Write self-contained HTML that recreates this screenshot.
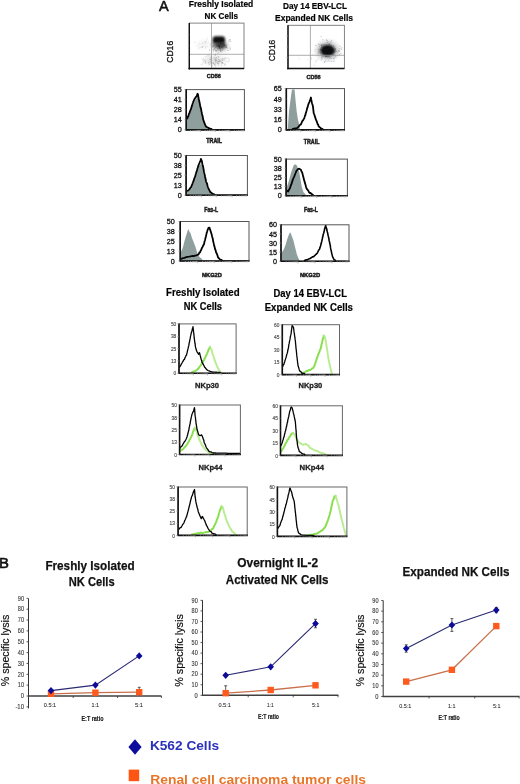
<!DOCTYPE html><html><head><meta charset="utf-8"><style>html,body{margin:0;padding:0;background:#fff;}svg{display:block;}text{font-family:"Liberation Sans",sans-serif;}</style></head><body>
<svg width="520" height="784" viewBox="0 0 520 784">
<rect width="520" height="784" fill="#fff"/>
<g opacity="0.999">
<text x="159.10" y="11.30" font-size="15.0" fill="#111" stroke="#111" stroke-width="0.55" textLength="9.70" lengthAdjust="spacingAndGlyphs">A</text>
<text x="188.80" y="7.00" font-size="8.8" fill="#000" stroke="#000" stroke-width="0.2" font-weight="bold" textLength="64.50" lengthAdjust="spacingAndGlyphs">Freshly Isolated</text>
<text x="204.60" y="18.80" font-size="8.8" fill="#000" stroke="#000" stroke-width="0.2" font-weight="bold" textLength="33.30" lengthAdjust="spacingAndGlyphs">NK Cells</text>
<text x="283.00" y="9.20" font-size="8.8" fill="#000" stroke="#000" stroke-width="0.2" font-weight="bold" textLength="64.00" lengthAdjust="spacingAndGlyphs">Day 14 EBV-LCL</text>
<text x="275.00" y="21.30" font-size="8.8" fill="#000" stroke="#000" stroke-width="0.2" font-weight="bold" textLength="78.00" lengthAdjust="spacingAndGlyphs">Expanded NK Cells</text>
<defs><filter id="b1" x="-50%" y="-50%" width="200%" height="200%"><feGaussianBlur stdDeviation="0.9"/></filter><filter id="b2" x="-50%" y="-50%" width="200%" height="200%"><feGaussianBlur stdDeviation="2.2"/></filter><filter id="b3" x="-50%" y="-50%" width="200%" height="200%"><feGaussianBlur stdDeviation="0.45"/></filter></defs>
<clipPath id="s189"><rect x="189.3" y="23.1" width="54.69999999999999" height="45.49999999999999"/></clipPath>
<g clip-path="url(#s189)">
<ellipse cx="220" cy="46" rx="8" ry="5" fill="#666" opacity="0.5" filter="url(#b2)"/>
<ellipse cx="203" cy="44.5" rx="7" ry="4" fill="#bbb" opacity="0.15" filter="url(#b2)"/>
<ellipse cx="215" cy="60.5" rx="11" ry="4" fill="#bbb" opacity="0.45" filter="url(#b2)"/>
<rect x="212.6" y="36.2" width="12.4" height="7.4" rx="3.2" fill="#0a0a0a" filter="url(#b1)"/>
<ellipse cx="221" cy="45.2" rx="4.6" ry="3.2" fill="#1a1a1a" opacity="0.75" filter="url(#b1)"/>
<ellipse cx="215" cy="45" rx="3" ry="2.5" fill="#444" opacity="0.5" filter="url(#b1)"/>
<g filter="url(#b3)">
<rect x="220.5" y="51.0" width="1" height="1" fill="#222" opacity="0.3"/>
<rect x="215.3" y="50.2" width="1" height="1" fill="#222" opacity="0.3"/>
<rect x="218.7" y="46.2" width="1" height="1" fill="#222" opacity="0.3"/>
<rect x="229.5" y="47.5" width="1" height="1" fill="#222" opacity="0.3"/>
<rect x="219.8" y="49.3" width="1" height="1" fill="#222" opacity="0.3"/>
<rect x="225.6" y="46.9" width="1" height="1" fill="#222" opacity="0.3"/>
<rect x="222.9" y="43.9" width="1" height="1" fill="#222" opacity="0.3"/>
<rect x="218.2" y="45.6" width="1" height="1" fill="#222" opacity="0.3"/>
<rect x="213.3" y="42.2" width="1" height="1" fill="#222" opacity="0.3"/>
<rect x="211.9" y="46.2" width="1" height="1" fill="#222" opacity="0.3"/>
<rect x="219.1" y="46.0" width="1" height="1" fill="#222" opacity="0.3"/>
<rect x="220.3" y="42.7" width="1" height="1" fill="#222" opacity="0.3"/>
<rect x="219.6" y="47.8" width="1" height="1" fill="#222" opacity="0.3"/>
<rect x="223.8" y="44.3" width="1" height="1" fill="#222" opacity="0.3"/>
<rect x="218.0" y="40.6" width="1" height="1" fill="#222" opacity="0.3"/>
<rect x="217.5" y="40.0" width="1" height="1" fill="#222" opacity="0.3"/>
<rect x="212.9" y="50.5" width="1" height="1" fill="#222" opacity="0.3"/>
<rect x="209.0" y="49.6" width="1" height="1" fill="#222" opacity="0.3"/>
<rect x="221.6" y="46.0" width="1" height="1" fill="#222" opacity="0.3"/>
<rect x="222.3" y="48.7" width="1" height="1" fill="#222" opacity="0.3"/>
<rect x="225.2" y="46.3" width="1" height="1" fill="#222" opacity="0.3"/>
<rect x="217.0" y="45.1" width="1" height="1" fill="#222" opacity="0.3"/>
<rect x="215.1" y="46.9" width="1" height="1" fill="#222" opacity="0.3"/>
<rect x="216.1" y="50.4" width="1" height="1" fill="#222" opacity="0.3"/>
<rect x="210.7" y="43.5" width="1" height="1" fill="#222" opacity="0.3"/>
<rect x="215.2" y="40.3" width="1" height="1" fill="#222" opacity="0.3"/>
<rect x="229.5" y="39.3" width="1" height="1" fill="#222" opacity="0.3"/>
<rect x="218.6" y="45.3" width="1" height="1" fill="#222" opacity="0.3"/>
<rect x="228.3" y="40.6" width="1" height="1" fill="#222" opacity="0.3"/>
<rect x="225.4" y="44.7" width="1" height="1" fill="#222" opacity="0.3"/>
<rect x="219.2" y="44.9" width="1" height="1" fill="#222" opacity="0.3"/>
<rect x="223.2" y="43.4" width="1" height="1" fill="#222" opacity="0.3"/>
<rect x="219.6" y="48.1" width="1" height="1" fill="#222" opacity="0.3"/>
<rect x="229.2" y="39.3" width="1" height="1" fill="#222" opacity="0.3"/>
<rect x="227.6" y="50.0" width="1" height="1" fill="#222" opacity="0.3"/>
<rect x="217.6" y="48.0" width="1" height="1" fill="#222" opacity="0.3"/>
<rect x="217.7" y="52.3" width="1" height="1" fill="#222" opacity="0.3"/>
<rect x="221.0" y="46.3" width="1" height="1" fill="#222" opacity="0.3"/>
<rect x="218.9" y="46.4" width="1" height="1" fill="#222" opacity="0.3"/>
<rect x="219.1" y="44.2" width="1" height="1" fill="#222" opacity="0.3"/>
<rect x="230.3" y="40.9" width="1" height="1" fill="#222" opacity="0.3"/>
<rect x="202.0" y="46.6" width="1" height="1" fill="#222" opacity="0.3"/>
<rect x="219.3" y="48.2" width="1" height="1" fill="#222" opacity="0.3"/>
<rect x="219.0" y="46.5" width="1" height="1" fill="#222" opacity="0.3"/>
<rect x="221.7" y="50.1" width="1" height="1" fill="#222" opacity="0.3"/>
<rect x="217.8" y="45.8" width="1" height="1" fill="#222" opacity="0.3"/>
<rect x="229.7" y="48.7" width="1" height="1" fill="#222" opacity="0.3"/>
<rect x="215.1" y="54.4" width="1" height="1" fill="#222" opacity="0.3"/>
<rect x="223.9" y="45.1" width="1" height="1" fill="#222" opacity="0.3"/>
<rect x="214.1" y="48.0" width="1" height="1" fill="#222" opacity="0.3"/>
<rect x="215.8" y="43.6" width="1" height="1" fill="#222" opacity="0.3"/>
<rect x="213.5" y="45.4" width="1" height="1" fill="#222" opacity="0.3"/>
<rect x="225.5" y="45.6" width="1" height="1" fill="#222" opacity="0.3"/>
<rect x="212.8" y="49.1" width="1" height="1" fill="#222" opacity="0.3"/>
<rect x="220.3" y="49.7" width="1" height="1" fill="#222" opacity="0.3"/>
<rect x="226.0" y="46.5" width="1" height="1" fill="#222" opacity="0.3"/>
<rect x="219.3" y="46.9" width="1" height="1" fill="#222" opacity="0.3"/>
<rect x="214.3" y="49.1" width="1" height="1" fill="#222" opacity="0.3"/>
<rect x="226.9" y="47.6" width="1" height="1" fill="#222" opacity="0.3"/>
<rect x="218.8" y="46.2" width="1" height="1" fill="#222" opacity="0.3"/>
<rect x="216.1" y="44.4" width="1" height="1" fill="#222" opacity="0.3"/>
<rect x="218.0" y="44.3" width="1" height="1" fill="#222" opacity="0.3"/>
<rect x="217.8" y="42.0" width="1" height="1" fill="#222" opacity="0.3"/>
<rect x="221.8" y="47.2" width="1" height="1" fill="#222" opacity="0.3"/>
<rect x="214.2" y="39.6" width="1" height="1" fill="#222" opacity="0.3"/>
<rect x="220.0" y="50.5" width="1" height="1" fill="#222" opacity="0.3"/>
<rect x="216.3" y="45.5" width="1" height="1" fill="#222" opacity="0.3"/>
<rect x="217.2" y="49.1" width="1" height="1" fill="#222" opacity="0.3"/>
<rect x="215.4" y="50.2" width="1" height="1" fill="#222" opacity="0.3"/>
<rect x="218.5" y="50.0" width="1" height="1" fill="#222" opacity="0.3"/>
<rect x="203.2" y="43.2" width="1" height="1" fill="#333" opacity="0.1"/>
<rect x="194.1" y="41.6" width="1" height="1" fill="#333" opacity="0.1"/>
<rect x="201.4" y="46.3" width="1" height="1" fill="#333" opacity="0.1"/>
<rect x="204.5" y="41.6" width="1" height="1" fill="#333" opacity="0.1"/>
<rect x="205.5" y="47.5" width="1" height="1" fill="#333" opacity="0.1"/>
<rect x="202.1" y="42.5" width="1" height="1" fill="#333" opacity="0.1"/>
<rect x="200.6" y="46.8" width="1" height="1" fill="#333" opacity="0.1"/>
<rect x="206.2" y="40.7" width="1" height="1" fill="#333" opacity="0.1"/>
<rect x="205.2" y="42.3" width="1" height="1" fill="#333" opacity="0.1"/>
<rect x="198.5" y="48.3" width="1" height="1" fill="#333" opacity="0.1"/>
<rect x="207.9" y="41.5" width="1" height="1" fill="#333" opacity="0.1"/>
<rect x="203.5" y="45.8" width="1" height="1" fill="#333" opacity="0.1"/>
<rect x="199.2" y="43.6" width="1" height="1" fill="#333" opacity="0.1"/>
<rect x="207.0" y="37.7" width="1" height="1" fill="#333" opacity="0.1"/>
<rect x="205.0" y="46.6" width="1" height="1" fill="#333" opacity="0.1"/>
<rect x="206.0" y="39.3" width="1" height="1" fill="#333" opacity="0.1"/>
<rect x="204.9" y="41.0" width="1" height="1" fill="#333" opacity="0.1"/>
<rect x="206.4" y="46.1" width="1" height="1" fill="#333" opacity="0.1"/>
<rect x="204.3" y="41.3" width="1" height="1" fill="#333" opacity="0.1"/>
<rect x="199.5" y="47.0" width="1" height="1" fill="#333" opacity="0.1"/>
<rect x="197.6" y="45.7" width="1" height="1" fill="#333" opacity="0.1"/>
<rect x="206.1" y="43.0" width="1" height="1" fill="#333" opacity="0.1"/>
<rect x="217.4" y="44.2" width="1" height="1" fill="#333" opacity="0.1"/>
<rect x="215.9" y="36.9" width="1" height="1" fill="#333" opacity="0.1"/>
<rect x="189.5" y="47.4" width="1" height="1" fill="#333" opacity="0.1"/>
<rect x="219.5" y="59.6" width="1" height="1" fill="#333" opacity="0.2"/>
<rect x="214.6" y="54.8" width="1" height="1" fill="#333" opacity="0.2"/>
<rect x="210.6" y="57.4" width="1" height="1" fill="#333" opacity="0.2"/>
<rect x="213.4" y="63.2" width="1" height="1" fill="#333" opacity="0.2"/>
<rect x="215.4" y="61.6" width="1" height="1" fill="#333" opacity="0.2"/>
<rect x="210.1" y="59.2" width="1" height="1" fill="#333" opacity="0.2"/>
<rect x="215.8" y="59.7" width="1" height="1" fill="#333" opacity="0.2"/>
<rect x="223.9" y="57.9" width="1" height="1" fill="#333" opacity="0.2"/>
<rect x="228.2" y="57.6" width="1" height="1" fill="#333" opacity="0.2"/>
<rect x="222.4" y="58.2" width="1" height="1" fill="#333" opacity="0.2"/>
<rect x="226.5" y="60.9" width="1" height="1" fill="#333" opacity="0.2"/>
<rect x="217.8" y="62.7" width="1" height="1" fill="#333" opacity="0.2"/>
<rect x="210.6" y="57.4" width="1" height="1" fill="#333" opacity="0.2"/>
<rect x="200.8" y="64.2" width="1" height="1" fill="#333" opacity="0.2"/>
<rect x="210.1" y="58.7" width="1" height="1" fill="#333" opacity="0.2"/>
<rect x="214.8" y="66.5" width="1" height="1" fill="#333" opacity="0.2"/>
<rect x="202.9" y="61.2" width="1" height="1" fill="#333" opacity="0.2"/>
<rect x="212.2" y="62.1" width="1" height="1" fill="#333" opacity="0.2"/>
<rect x="202.4" y="59.3" width="1" height="1" fill="#333" opacity="0.2"/>
<rect x="220.9" y="65.2" width="1" height="1" fill="#333" opacity="0.2"/>
<rect x="226.2" y="57.9" width="1" height="1" fill="#333" opacity="0.2"/>
<rect x="215.4" y="60.2" width="1" height="1" fill="#333" opacity="0.2"/>
<rect x="205.4" y="56.2" width="1" height="1" fill="#333" opacity="0.2"/>
<rect x="220.3" y="61.2" width="1" height="1" fill="#333" opacity="0.2"/>
<rect x="214.0" y="64.1" width="1" height="1" fill="#333" opacity="0.2"/>
<rect x="208.0" y="62.1" width="1" height="1" fill="#333" opacity="0.2"/>
<rect x="215.1" y="60.3" width="1" height="1" fill="#333" opacity="0.2"/>
<rect x="218.4" y="61.0" width="1" height="1" fill="#333" opacity="0.2"/>
<rect x="216.9" y="61.3" width="1" height="1" fill="#333" opacity="0.2"/>
<rect x="228.6" y="59.6" width="1" height="1" fill="#333" opacity="0.2"/>
<rect x="222.1" y="62.3" width="1" height="1" fill="#333" opacity="0.2"/>
<rect x="212.6" y="62.9" width="1" height="1" fill="#333" opacity="0.2"/>
<rect x="209.0" y="64.0" width="1" height="1" fill="#333" opacity="0.2"/>
<rect x="209.3" y="59.0" width="1" height="1" fill="#333" opacity="0.2"/>
<rect x="217.3" y="63.0" width="1" height="1" fill="#333" opacity="0.2"/>
<rect x="221.4" y="63.2" width="1" height="1" fill="#333" opacity="0.2"/>
<rect x="213.6" y="57.6" width="1" height="1" fill="#333" opacity="0.2"/>
<rect x="218.8" y="61.4" width="1" height="1" fill="#333" opacity="0.2"/>
<rect x="208.3" y="63.4" width="1" height="1" fill="#333" opacity="0.2"/>
<rect x="216.4" y="57.6" width="1" height="1" fill="#333" opacity="0.2"/>
<rect x="218.1" y="56.5" width="1" height="1" fill="#333" opacity="0.2"/>
<rect x="208.9" y="61.7" width="1" height="1" fill="#333" opacity="0.2"/>
<rect x="204.1" y="60.6" width="1" height="1" fill="#333" opacity="0.2"/>
<rect x="205.5" y="62.7" width="1" height="1" fill="#333" opacity="0.2"/>
<rect x="209.9" y="61.0" width="1" height="1" fill="#333" opacity="0.2"/>
<rect x="204.5" y="59.5" width="1" height="1" fill="#333" opacity="0.2"/>
<rect x="221.6" y="61.9" width="1" height="1" fill="#333" opacity="0.2"/>
<rect x="202.1" y="63.3" width="1" height="1" fill="#333" opacity="0.2"/>
<rect x="221.2" y="59.4" width="1" height="1" fill="#333" opacity="0.2"/>
<rect x="224.9" y="57.3" width="1" height="1" fill="#333" opacity="0.2"/>
<rect x="214.4" y="63.8" width="1" height="1" fill="#333" opacity="0.2"/>
<rect x="224.2" y="64.3" width="1" height="1" fill="#333" opacity="0.2"/>
<rect x="207.3" y="55.2" width="1" height="1" fill="#333" opacity="0.2"/>
<rect x="217.7" y="56.2" width="1" height="1" fill="#333" opacity="0.2"/>
<rect x="214.1" y="56.7" width="1" height="1" fill="#333" opacity="0.2"/>
<rect x="222.4" y="62.9" width="1" height="1" fill="#333" opacity="0.2"/>
<rect x="218.9" y="60.6" width="1" height="1" fill="#333" opacity="0.2"/>
<rect x="215.3" y="59.6" width="1" height="1" fill="#333" opacity="0.2"/>
<rect x="217.7" y="61.2" width="1" height="1" fill="#333" opacity="0.2"/>
<rect x="218.2" y="59.2" width="1" height="1" fill="#333" opacity="0.2"/>
<rect x="228.3" y="61.3" width="1" height="1" fill="#333" opacity="0.2"/>
<rect x="224.8" y="64.5" width="1" height="1" fill="#333" opacity="0.2"/>
<rect x="208.8" y="55.4" width="1" height="1" fill="#333" opacity="0.2"/>
<rect x="223.8" y="59.3" width="1" height="1" fill="#333" opacity="0.2"/>
<rect x="215.6" y="59.7" width="1" height="1" fill="#333" opacity="0.2"/>
<rect x="215.9" y="56.9" width="1" height="1" fill="#333" opacity="0.2"/>
<rect x="214.3" y="59.1" width="1" height="1" fill="#333" opacity="0.2"/>
<rect x="214.9" y="53.5" width="1" height="1" fill="#333" opacity="0.2"/>
<rect x="220.7" y="61.5" width="1" height="1" fill="#333" opacity="0.2"/>
<rect x="202.9" y="58.3" width="1" height="1" fill="#333" opacity="0.2"/>
<rect x="215.2" y="62.4" width="1" height="1" fill="#333" opacity="0.2"/>
<rect x="215.0" y="64.7" width="1" height="1" fill="#333" opacity="0.2"/>
<rect x="215.2" y="57.5" width="1" height="1" fill="#333" opacity="0.2"/>
<rect x="210.3" y="62.7" width="1" height="1" fill="#333" opacity="0.2"/>
<rect x="210.7" y="63.0" width="1" height="1" fill="#333" opacity="0.2"/>
<rect x="222.1" y="62.3" width="1" height="1" fill="#333" opacity="0.2"/>
<rect x="222.1" y="60.0" width="1" height="1" fill="#333" opacity="0.2"/>
<rect x="214.9" y="58.7" width="1" height="1" fill="#333" opacity="0.2"/>
<rect x="210.7" y="55.8" width="1" height="1" fill="#333" opacity="0.2"/>
<rect x="211.1" y="57.3" width="1" height="1" fill="#333" opacity="0.2"/>
<rect x="205.0" y="60.9" width="1" height="1" fill="#333" opacity="0.2"/>
<rect x="218.2" y="59.5" width="1" height="1" fill="#333" opacity="0.2"/>
<rect x="224.6" y="63.3" width="1" height="1" fill="#333" opacity="0.2"/>
<rect x="222.3" y="58.7" width="1" height="1" fill="#333" opacity="0.2"/>
<rect x="204.6" y="62.2" width="1" height="1" fill="#333" opacity="0.2"/>
<rect x="217.2" y="62.7" width="1" height="1" fill="#333" opacity="0.2"/>
<rect x="217.9" y="64.3" width="1" height="1" fill="#333" opacity="0.2"/>
<rect x="213.0" y="62.5" width="1" height="1" fill="#333" opacity="0.2"/>
<rect x="208.7" y="53.6" width="1" height="1" fill="#333" opacity="0.2"/>
<rect x="211.9" y="65.0" width="1" height="1" fill="#333" opacity="0.2"/>
</g>
</g>
<line x1="211.5" y1="23.1" x2="211.5" y2="68.6" stroke="#999" stroke-width="0.8"/>
<line x1="189.3" y1="54.3" x2="244.0" y2="54.3" stroke="#999" stroke-width="0.8"/>
<rect x="189.3" y="23.1" width="54.69999999999999" height="45.49999999999999" fill="none" stroke="#777" stroke-width="0.9"/>
<line x1="189.3" y1="23.1" x2="189.3" y2="69.39999999999999" stroke="#111" stroke-width="1.4"/>
<line x1="188.5" y1="68.6" x2="244.0" y2="68.6" stroke="#111" stroke-width="1.5"/>
<line x1="187.5" y1="34.5" x2="189.3" y2="34.5" stroke="#aaa" stroke-width="0.6"/>
<line x1="187.5" y1="45.8" x2="189.3" y2="45.8" stroke="#aaa" stroke-width="0.6"/>
<line x1="187.5" y1="57.2" x2="189.3" y2="57.2" stroke="#aaa" stroke-width="0.6"/>
<clipPath id="s288"><rect x="288.0" y="25.3" width="56.39999999999998" height="43.10000000000001"/></clipPath>
<g clip-path="url(#s288)">
<ellipse cx="327.5" cy="50.5" rx="11" ry="9" fill="#6a7070" opacity="0.45" filter="url(#b2)"/>
<ellipse cx="327.6" cy="50.5" rx="7.2" ry="5.8" fill="#0c100f" filter="url(#b1)"/>
<g filter="url(#b3)">
<rect x="321.0" y="45.2" width="1" height="1" fill="#223" opacity="0.28"/>
<rect x="331.2" y="39.9" width="1" height="1" fill="#223" opacity="0.28"/>
<rect x="326.7" y="40.1" width="1" height="1" fill="#223" opacity="0.28"/>
<rect x="333.6" y="51.4" width="1" height="1" fill="#223" opacity="0.28"/>
<rect x="335.0" y="48.2" width="1" height="1" fill="#223" opacity="0.28"/>
<rect x="329.7" y="49.2" width="1" height="1" fill="#223" opacity="0.28"/>
<rect x="323.4" y="51.2" width="1" height="1" fill="#223" opacity="0.28"/>
<rect x="320.6" y="48.9" width="1" height="1" fill="#223" opacity="0.28"/>
<rect x="331.3" y="50.8" width="1" height="1" fill="#223" opacity="0.28"/>
<rect x="325.2" y="60.6" width="1" height="1" fill="#223" opacity="0.28"/>
<rect x="327.8" y="47.8" width="1" height="1" fill="#223" opacity="0.28"/>
<rect x="328.4" y="48.1" width="1" height="1" fill="#223" opacity="0.28"/>
<rect x="325.4" y="48.9" width="1" height="1" fill="#223" opacity="0.28"/>
<rect x="338.6" y="50.6" width="1" height="1" fill="#223" opacity="0.28"/>
<rect x="328.5" y="53.6" width="1" height="1" fill="#223" opacity="0.28"/>
<rect x="338.6" y="49.5" width="1" height="1" fill="#223" opacity="0.28"/>
<rect x="324.1" y="61.9" width="1" height="1" fill="#223" opacity="0.28"/>
<rect x="319.5" y="48.8" width="1" height="1" fill="#223" opacity="0.28"/>
<rect x="331.2" y="61.0" width="1" height="1" fill="#223" opacity="0.28"/>
<rect x="322.3" y="39.3" width="1" height="1" fill="#223" opacity="0.28"/>
<rect x="331.1" y="48.1" width="1" height="1" fill="#223" opacity="0.28"/>
<rect x="325.4" y="52.6" width="1" height="1" fill="#223" opacity="0.28"/>
<rect x="328.7" y="51.8" width="1" height="1" fill="#223" opacity="0.28"/>
<rect x="325.1" y="56.4" width="1" height="1" fill="#223" opacity="0.28"/>
<rect x="335.8" y="50.6" width="1" height="1" fill="#223" opacity="0.28"/>
<rect x="325.0" y="53.9" width="1" height="1" fill="#223" opacity="0.28"/>
<rect x="330.1" y="45.7" width="1" height="1" fill="#223" opacity="0.28"/>
<rect x="325.0" y="55.3" width="1" height="1" fill="#223" opacity="0.28"/>
<rect x="327.0" y="49.0" width="1" height="1" fill="#223" opacity="0.28"/>
<rect x="328.7" y="50.3" width="1" height="1" fill="#223" opacity="0.28"/>
<rect x="327.5" y="41.6" width="1" height="1" fill="#223" opacity="0.28"/>
<rect x="337.1" y="51.4" width="1" height="1" fill="#223" opacity="0.28"/>
<rect x="322.7" y="55.0" width="1" height="1" fill="#223" opacity="0.28"/>
<rect x="329.2" y="50.6" width="1" height="1" fill="#223" opacity="0.28"/>
<rect x="333.3" y="60.9" width="1" height="1" fill="#223" opacity="0.28"/>
<rect x="330.5" y="57.8" width="1" height="1" fill="#223" opacity="0.28"/>
<rect x="339.4" y="45.8" width="1" height="1" fill="#223" opacity="0.28"/>
<rect x="324.6" y="54.1" width="1" height="1" fill="#223" opacity="0.28"/>
<rect x="318.1" y="49.3" width="1" height="1" fill="#223" opacity="0.28"/>
<rect x="334.6" y="55.3" width="1" height="1" fill="#223" opacity="0.28"/>
<rect x="330.7" y="41.8" width="1" height="1" fill="#223" opacity="0.28"/>
<rect x="340.4" y="53.0" width="1" height="1" fill="#223" opacity="0.28"/>
<rect x="331.7" y="52.8" width="1" height="1" fill="#223" opacity="0.28"/>
<rect x="318.1" y="43.9" width="1" height="1" fill="#223" opacity="0.28"/>
<rect x="320.8" y="59.3" width="1" height="1" fill="#223" opacity="0.28"/>
<rect x="322.9" y="49.4" width="1" height="1" fill="#223" opacity="0.28"/>
<rect x="326.1" y="53.1" width="1" height="1" fill="#223" opacity="0.28"/>
<rect x="330.3" y="51.7" width="1" height="1" fill="#223" opacity="0.28"/>
<rect x="320.6" y="36.1" width="1" height="1" fill="#223" opacity="0.28"/>
<rect x="328.4" y="51.7" width="1" height="1" fill="#223" opacity="0.28"/>
<rect x="334.3" y="50.0" width="1" height="1" fill="#223" opacity="0.28"/>
<rect x="324.1" y="52.4" width="1" height="1" fill="#223" opacity="0.28"/>
<rect x="319.0" y="45.7" width="1" height="1" fill="#223" opacity="0.28"/>
<rect x="322.0" y="51.8" width="1" height="1" fill="#223" opacity="0.28"/>
<rect x="339.0" y="54.0" width="1" height="1" fill="#223" opacity="0.28"/>
<rect x="333.8" y="51.6" width="1" height="1" fill="#223" opacity="0.28"/>
<rect x="329.0" y="48.4" width="1" height="1" fill="#223" opacity="0.28"/>
<rect x="326.0" y="39.3" width="1" height="1" fill="#223" opacity="0.28"/>
<rect x="320.9" y="44.6" width="1" height="1" fill="#223" opacity="0.28"/>
<rect x="332.1" y="53.6" width="1" height="1" fill="#223" opacity="0.28"/>
<rect x="333.8" y="57.7" width="1" height="1" fill="#223" opacity="0.28"/>
<rect x="325.8" y="55.4" width="1" height="1" fill="#223" opacity="0.28"/>
<rect x="338.3" y="50.5" width="1" height="1" fill="#223" opacity="0.28"/>
<rect x="333.5" y="49.7" width="1" height="1" fill="#223" opacity="0.28"/>
<rect x="318.6" y="51.1" width="1" height="1" fill="#223" opacity="0.28"/>
<rect x="323.0" y="51.0" width="1" height="1" fill="#223" opacity="0.28"/>
<rect x="325.0" y="52.0" width="1" height="1" fill="#223" opacity="0.28"/>
<rect x="315.7" y="60.1" width="1" height="1" fill="#223" opacity="0.28"/>
<rect x="335.0" y="48.9" width="1" height="1" fill="#223" opacity="0.28"/>
<rect x="322.5" y="50.5" width="1" height="1" fill="#223" opacity="0.28"/>
<rect x="331.2" y="52.4" width="1" height="1" fill="#223" opacity="0.28"/>
<rect x="329.7" y="41.4" width="1" height="1" fill="#223" opacity="0.28"/>
<rect x="321.3" y="56.7" width="1" height="1" fill="#223" opacity="0.28"/>
<rect x="328.8" y="43.5" width="1" height="1" fill="#223" opacity="0.28"/>
<rect x="322.7" y="43.8" width="1" height="1" fill="#223" opacity="0.28"/>
<rect x="321.9" y="55.9" width="1" height="1" fill="#223" opacity="0.28"/>
<rect x="326.3" y="55.7" width="1" height="1" fill="#223" opacity="0.28"/>
<rect x="328.5" y="43.5" width="1" height="1" fill="#223" opacity="0.28"/>
<rect x="323.9" y="61.2" width="1" height="1" fill="#223" opacity="0.28"/>
<rect x="323.2" y="45.6" width="1" height="1" fill="#223" opacity="0.28"/>
<rect x="334.4" y="50.9" width="1" height="1" fill="#223" opacity="0.28"/>
<rect x="327.5" y="57.4" width="1" height="1" fill="#223" opacity="0.28"/>
<rect x="317.6" y="52.5" width="1" height="1" fill="#223" opacity="0.28"/>
<rect x="321.6" y="43.9" width="1" height="1" fill="#223" opacity="0.28"/>
<rect x="322.9" y="55.9" width="1" height="1" fill="#223" opacity="0.28"/>
<rect x="326.7" y="41.9" width="1" height="1" fill="#223" opacity="0.28"/>
<rect x="321.3" y="57.7" width="1" height="1" fill="#223" opacity="0.28"/>
<rect x="333.2" y="45.4" width="1" height="1" fill="#223" opacity="0.28"/>
<rect x="341.1" y="48.8" width="1" height="1" fill="#223" opacity="0.28"/>
<rect x="320.8" y="49.9" width="1" height="1" fill="#223" opacity="0.28"/>
<rect x="332.8" y="58.1" width="1" height="1" fill="#223" opacity="0.28"/>
<rect x="333.3" y="48.5" width="1" height="1" fill="#223" opacity="0.28"/>
<rect x="324.3" y="43.7" width="1" height="1" fill="#223" opacity="0.28"/>
<rect x="327.1" y="47.7" width="1" height="1" fill="#223" opacity="0.28"/>
<rect x="328.9" y="44.5" width="1" height="1" fill="#223" opacity="0.28"/>
<rect x="324.6" y="46.4" width="1" height="1" fill="#223" opacity="0.28"/>
<rect x="320.7" y="44.9" width="1" height="1" fill="#223" opacity="0.28"/>
<rect x="321.8" y="44.9" width="1" height="1" fill="#223" opacity="0.28"/>
<rect x="330.7" y="51.0" width="1" height="1" fill="#223" opacity="0.28"/>
<rect x="320.1" y="52.9" width="1" height="1" fill="#223" opacity="0.28"/>
<rect x="329.1" y="57.4" width="1" height="1" fill="#223" opacity="0.28"/>
<rect x="326.4" y="49.5" width="1" height="1" fill="#223" opacity="0.28"/>
<rect x="323.6" y="51.1" width="1" height="1" fill="#223" opacity="0.28"/>
<rect x="330.3" y="51.3" width="1" height="1" fill="#223" opacity="0.28"/>
<rect x="326.1" y="53.2" width="1" height="1" fill="#223" opacity="0.28"/>
<rect x="328.0" y="51.7" width="1" height="1" fill="#223" opacity="0.28"/>
<rect x="322.2" y="51.5" width="1" height="1" fill="#223" opacity="0.28"/>
<rect x="321.9" y="46.5" width="1" height="1" fill="#223" opacity="0.28"/>
<rect x="328.4" y="60.4" width="1" height="1" fill="#223" opacity="0.28"/>
<rect x="333.1" y="50.5" width="1" height="1" fill="#223" opacity="0.28"/>
<rect x="326.5" y="55.2" width="1" height="1" fill="#223" opacity="0.28"/>
<rect x="335.3" y="56.2" width="1" height="1" fill="#223" opacity="0.28"/>
<rect x="326.5" y="51.4" width="1" height="1" fill="#223" opacity="0.28"/>
<rect x="325.6" y="49.2" width="1" height="1" fill="#223" opacity="0.28"/>
<rect x="322.7" y="49.3" width="1" height="1" fill="#223" opacity="0.28"/>
<rect x="315.4" y="44.9" width="1" height="1" fill="#223" opacity="0.28"/>
<rect x="329.9" y="46.1" width="1" height="1" fill="#223" opacity="0.28"/>
<rect x="330.5" y="44.4" width="1" height="1" fill="#223" opacity="0.28"/>
<rect x="325.4" y="52.4" width="1" height="1" fill="#223" opacity="0.28"/>
<rect x="321.7" y="47.1" width="1" height="1" fill="#223" opacity="0.28"/>
<rect x="341.4" y="47.3" width="1" height="1" fill="#223" opacity="0.28"/>
<rect x="323.5" y="47.8" width="1" height="1" fill="#223" opacity="0.28"/>
<rect x="327.7" y="50.4" width="1" height="1" fill="#223" opacity="0.28"/>
<rect x="333.0" y="54.2" width="1" height="1" fill="#223" opacity="0.28"/>
<rect x="325.2" y="48.8" width="1" height="1" fill="#223" opacity="0.28"/>
<rect x="319.5" y="43.5" width="1" height="1" fill="#223" opacity="0.28"/>
<rect x="323.3" y="53.9" width="1" height="1" fill="#223" opacity="0.28"/>
<rect x="328.2" y="54.3" width="1" height="1" fill="#223" opacity="0.28"/>
<rect x="332.8" y="49.7" width="1" height="1" fill="#223" opacity="0.28"/>
<rect x="339.3" y="48.0" width="1" height="1" fill="#223" opacity="0.28"/>
<rect x="312.2" y="53.8" width="1" height="1" fill="#333" opacity="0.12"/>
<rect x="328.5" y="55.3" width="1" height="1" fill="#333" opacity="0.12"/>
<rect x="311.2" y="58.2" width="1" height="1" fill="#333" opacity="0.12"/>
<rect x="328.4" y="55.4" width="1" height="1" fill="#333" opacity="0.12"/>
<rect x="315.7" y="61.5" width="1" height="1" fill="#333" opacity="0.12"/>
<rect x="327.0" y="60.8" width="1" height="1" fill="#333" opacity="0.12"/>
<rect x="311.0" y="57.4" width="1" height="1" fill="#333" opacity="0.12"/>
<rect x="321.3" y="46.8" width="1" height="1" fill="#333" opacity="0.12"/>
<rect x="329.1" y="56.5" width="1" height="1" fill="#333" opacity="0.12"/>
<rect x="314.9" y="67.6" width="1" height="1" fill="#333" opacity="0.12"/>
<rect x="319.3" y="52.3" width="1" height="1" fill="#333" opacity="0.12"/>
<rect x="317.4" y="58.9" width="1" height="1" fill="#333" opacity="0.12"/>
<rect x="325.5" y="55.7" width="1" height="1" fill="#333" opacity="0.12"/>
<rect x="310.1" y="52.4" width="1" height="1" fill="#333" opacity="0.12"/>
<rect x="310.5" y="50.6" width="1" height="1" fill="#333" opacity="0.12"/>
<rect x="317.8" y="53.5" width="1" height="1" fill="#333" opacity="0.12"/>
<rect x="318.5" y="51.8" width="1" height="1" fill="#333" opacity="0.12"/>
<rect x="310.0" y="55.1" width="1" height="1" fill="#333" opacity="0.12"/>
<rect x="314.8" y="61.9" width="1" height="1" fill="#333" opacity="0.12"/>
<rect x="309.7" y="57.1" width="1" height="1" fill="#333" opacity="0.12"/>
<rect x="317.6" y="49.3" width="1" height="1" fill="#333" opacity="0.12"/>
<rect x="324.7" y="56.9" width="1" height="1" fill="#333" opacity="0.12"/>
<rect x="298.7" y="59.1" width="1" height="1" fill="#333" opacity="0.12"/>
<rect x="326.6" y="51.9" width="1" height="1" fill="#333" opacity="0.12"/>
<rect x="333.6" y="56.8" width="1" height="1" fill="#333" opacity="0.12"/>
<rect x="307.4" y="58.9" width="1" height="1" fill="#333" opacity="0.12"/>
<rect x="314.7" y="49.2" width="1" height="1" fill="#333" opacity="0.12"/>
<rect x="298.3" y="57.3" width="1" height="1" fill="#333" opacity="0.12"/>
<rect x="311.2" y="59.3" width="1" height="1" fill="#333" opacity="0.12"/>
<rect x="321.6" y="53.3" width="1" height="1" fill="#333" opacity="0.12"/>
<rect x="313.1" y="65.0" width="1" height="1" fill="#333" opacity="0.12"/>
<rect x="333.7" y="59.8" width="1" height="1" fill="#333" opacity="0.12"/>
<rect x="314.7" y="51.0" width="1" height="1" fill="#333" opacity="0.12"/>
<rect x="314.4" y="64.5" width="1" height="1" fill="#333" opacity="0.12"/>
<rect x="322.2" y="54.5" width="1" height="1" fill="#333" opacity="0.12"/>
</g>
</g>
<line x1="310.4" y1="25.3" x2="310.4" y2="68.4" stroke="#999" stroke-width="0.8"/>
<line x1="288.0" y1="55.3" x2="344.4" y2="55.3" stroke="#999" stroke-width="0.8"/>
<rect x="288.0" y="25.3" width="56.39999999999998" height="43.10000000000001" fill="none" stroke="#777" stroke-width="0.9"/>
<line x1="288.0" y1="25.3" x2="288.0" y2="69.2" stroke="#111" stroke-width="1.4"/>
<line x1="287.2" y1="68.4" x2="344.4" y2="68.4" stroke="#111" stroke-width="1.5"/>
<line x1="286.2" y1="36.1" x2="288.0" y2="36.1" stroke="#aaa" stroke-width="0.6"/>
<line x1="286.2" y1="46.9" x2="288.0" y2="46.9" stroke="#aaa" stroke-width="0.6"/>
<line x1="286.2" y1="57.6" x2="288.0" y2="57.6" stroke="#aaa" stroke-width="0.6"/>
<text x="173.20" y="51.80" font-size="9.4" fill="#111" stroke="#111" stroke-width="0.3" text-anchor="middle" textLength="22.00" lengthAdjust="spacingAndGlyphs" transform="rotate(-90 173.20 51.80)">CD16</text>
<text x="274.90" y="50.50" font-size="9.4" fill="#111" stroke="#111" stroke-width="0.3" text-anchor="middle" textLength="21.50" lengthAdjust="spacingAndGlyphs" transform="rotate(-90 274.90 50.50)">CD16</text>
<text x="206.70" y="78.00" font-size="6.0" fill="#222" stroke="#222" stroke-width="0.45" font-weight="bold" textLength="14.30" lengthAdjust="spacingAndGlyphs">CD56</text>
<text x="306.50" y="78.60" font-size="6.0" fill="#222" stroke="#222" stroke-width="0.45" font-weight="bold" textLength="14.20" lengthAdjust="spacingAndGlyphs">CD56</text>
<g>
<clipPath id="c18689"><rect x="186.2" y="89.6" width="58.20000000000002" height="40.30000000000001"/></clipPath>
<polygon clip-path="url(#c18689)" points="186.4,129.9 186.4,121.5 189.0,115.5 191.0,110.0 193.0,104.5 195.0,100.0 196.5,98.5 197.8,97.0 199.0,102.0 200.5,108.5 202.0,115.0 203.3,121.0 205.0,125.5 207.0,128.0 209.0,129.6 209.0,129.9" fill="#8f9f9e" stroke="none"/>
<polyline clip-path="url(#c18689)" points="187.0,118.8 187.4,118.3 187.8,116.7 188.3,116.3 188.7,114.7 189.1,113.5 189.5,113.1 189.9,111.5 190.4,110.3 190.8,109.5 191.2,108.2 191.6,106.8 192.1,105.6 192.5,104.0 192.9,103.0 193.3,101.4 193.8,100.7 194.2,99.4 195.4,97.7 196.7,96.2 197.1,94.9 197.5,93.8 198.0,94.4 198.2,96.0 198.4,97.3 198.6,98.0 198.8,99.6 199.1,100.4 199.4,101.8 199.7,103.2 199.9,104.1 200.2,105.9 200.4,106.9 200.7,107.7 200.9,108.5 201.2,109.8 201.4,111.2 201.7,112.0 201.9,113.7 202.2,114.6 202.5,115.8 202.7,116.8 203.0,118.2 203.2,119.7 203.5,120.3 203.9,121.7 204.3,122.6 204.8,123.9 205.2,125.0 206.2,126.7 207.3,127.3 208.8,128.1 210.2,128.7 211.3,128.9 212.5,130.2 213.6,130.2 214.7,130.2 215.9,130.2 217.0,130.2 218.1,130.2 219.2,130.2 220.4,130.2 221.5,130.2 222.6,130.2 223.7,130.2 224.9,130.2 226.0,130.2 227.1,130.2 228.2,130.2 229.4,130.2 230.5,130.2 231.6,130.2 232.7,130.2 233.9,130.2 235.0,130.2 236.1,130.2 237.2,130.2 238.4,130.2 239.5,130.2 240.6,130.2 241.7,130.2 242.9,130.2 244.0,130.2" fill="none" stroke="#000" stroke-width="1.8" stroke-linejoin="round" stroke-linecap="round" opacity="1"/>
<rect x="186.2" y="89.6" width="58.20000000000002" height="40.30000000000001" fill="none" stroke="#555" stroke-width="1"/>
<line x1="186.2" y1="89.1" x2="186.2" y2="130.4" stroke="#111" stroke-width="1.6"/>
<line x1="185.7" y1="129.9" x2="244.9" y2="129.9" stroke="#111" stroke-width="1.6"/>
<text x="181.80" y="92.19" font-size="7.2" fill="#111" stroke="#111" stroke-width="0.3" text-anchor="end">55</text>
<line x1="184.2" y1="89.60" x2="186.2" y2="89.60" stroke="#999" stroke-width="0.6"/>
<text x="181.80" y="102.27" font-size="7.2" fill="#111" stroke="#111" stroke-width="0.3" text-anchor="end">41</text>
<line x1="184.2" y1="99.67" x2="186.2" y2="99.67" stroke="#999" stroke-width="0.6"/>
<text x="181.80" y="112.34" font-size="7.2" fill="#111" stroke="#111" stroke-width="0.3" text-anchor="end">28</text>
<line x1="184.2" y1="109.75" x2="186.2" y2="109.75" stroke="#999" stroke-width="0.6"/>
<text x="181.80" y="122.42" font-size="7.2" fill="#111" stroke="#111" stroke-width="0.3" text-anchor="end">14</text>
<line x1="184.2" y1="119.83" x2="186.2" y2="119.83" stroke="#999" stroke-width="0.6"/>
<text x="181.80" y="132.49" font-size="7.2" fill="#111" stroke="#111" stroke-width="0.3" text-anchor="end">0</text>
<line x1="184.2" y1="129.90" x2="186.2" y2="129.90" stroke="#999" stroke-width="0.6"/>
<line x1="190.58" y1="129.9" x2="190.58" y2="131.50" stroke="#c8c8c8" stroke-width="0.6"/>
<line x1="193.14" y1="129.9" x2="193.14" y2="131.50" stroke="#c8c8c8" stroke-width="0.6"/>
<line x1="194.96" y1="129.9" x2="194.96" y2="131.50" stroke="#c8c8c8" stroke-width="0.6"/>
<line x1="196.37" y1="129.9" x2="196.37" y2="131.50" stroke="#c8c8c8" stroke-width="0.6"/>
<line x1="197.52" y1="129.9" x2="197.52" y2="131.50" stroke="#c8c8c8" stroke-width="0.6"/>
<line x1="198.50" y1="129.9" x2="198.50" y2="131.50" stroke="#c8c8c8" stroke-width="0.6"/>
<line x1="199.34" y1="129.9" x2="199.34" y2="131.50" stroke="#c8c8c8" stroke-width="0.6"/>
<line x1="200.08" y1="129.9" x2="200.08" y2="131.50" stroke="#c8c8c8" stroke-width="0.6"/>
<line x1="200.75" y1="129.9" x2="200.75" y2="132.10" stroke="#999" stroke-width="0.6"/>
<line x1="205.13" y1="129.9" x2="205.13" y2="131.50" stroke="#c8c8c8" stroke-width="0.6"/>
<line x1="207.69" y1="129.9" x2="207.69" y2="131.50" stroke="#c8c8c8" stroke-width="0.6"/>
<line x1="209.51" y1="129.9" x2="209.51" y2="131.50" stroke="#c8c8c8" stroke-width="0.6"/>
<line x1="210.92" y1="129.9" x2="210.92" y2="131.50" stroke="#c8c8c8" stroke-width="0.6"/>
<line x1="212.07" y1="129.9" x2="212.07" y2="131.50" stroke="#c8c8c8" stroke-width="0.6"/>
<line x1="213.05" y1="129.9" x2="213.05" y2="131.50" stroke="#c8c8c8" stroke-width="0.6"/>
<line x1="213.89" y1="129.9" x2="213.89" y2="131.50" stroke="#c8c8c8" stroke-width="0.6"/>
<line x1="214.63" y1="129.9" x2="214.63" y2="131.50" stroke="#c8c8c8" stroke-width="0.6"/>
<line x1="215.30" y1="129.9" x2="215.30" y2="132.10" stroke="#999" stroke-width="0.6"/>
<line x1="219.68" y1="129.9" x2="219.68" y2="131.50" stroke="#c8c8c8" stroke-width="0.6"/>
<line x1="222.24" y1="129.9" x2="222.24" y2="131.50" stroke="#c8c8c8" stroke-width="0.6"/>
<line x1="224.06" y1="129.9" x2="224.06" y2="131.50" stroke="#c8c8c8" stroke-width="0.6"/>
<line x1="225.47" y1="129.9" x2="225.47" y2="131.50" stroke="#c8c8c8" stroke-width="0.6"/>
<line x1="226.62" y1="129.9" x2="226.62" y2="131.50" stroke="#c8c8c8" stroke-width="0.6"/>
<line x1="227.60" y1="129.9" x2="227.60" y2="131.50" stroke="#c8c8c8" stroke-width="0.6"/>
<line x1="228.44" y1="129.9" x2="228.44" y2="131.50" stroke="#c8c8c8" stroke-width="0.6"/>
<line x1="229.18" y1="129.9" x2="229.18" y2="131.50" stroke="#c8c8c8" stroke-width="0.6"/>
<line x1="229.85" y1="129.9" x2="229.85" y2="132.10" stroke="#999" stroke-width="0.6"/>
<line x1="234.23" y1="129.9" x2="234.23" y2="131.50" stroke="#c8c8c8" stroke-width="0.6"/>
<line x1="236.79" y1="129.9" x2="236.79" y2="131.50" stroke="#c8c8c8" stroke-width="0.6"/>
<line x1="238.61" y1="129.9" x2="238.61" y2="131.50" stroke="#c8c8c8" stroke-width="0.6"/>
<line x1="240.02" y1="129.9" x2="240.02" y2="131.50" stroke="#c8c8c8" stroke-width="0.6"/>
<line x1="241.17" y1="129.9" x2="241.17" y2="131.50" stroke="#c8c8c8" stroke-width="0.6"/>
<line x1="242.15" y1="129.9" x2="242.15" y2="131.50" stroke="#c8c8c8" stroke-width="0.6"/>
<line x1="242.99" y1="129.9" x2="242.99" y2="131.50" stroke="#c8c8c8" stroke-width="0.6"/>
<line x1="243.73" y1="129.9" x2="243.73" y2="131.50" stroke="#c8c8c8" stroke-width="0.6"/>
</g>
<g>
<clipPath id="c28688"><rect x="286.3" y="88.6" width="58.19999999999999" height="41.30000000000001"/></clipPath>
<polygon clip-path="url(#c28688)" points="287.8,129.9 287.8,129.6 288.4,119.8 289.0,111.4 290.1,102.9 291.2,94.5 292.0,89.4 294.6,89.4 295.0,94.5 295.8,102.9 296.7,111.4 298.0,119.8 299.2,124.5 300.0,129.6 300.0,129.9" fill="#8f9f9e" stroke="none"/>
<polyline clip-path="url(#c28688)" points="291.6,130.2 292.9,128.9 294.1,128.7 295.4,128.5 296.7,128.3 297.5,127.7 298.4,126.8 299.2,125.8 300.1,124.8 300.9,124.4 301.5,123.0 302.0,121.8 302.6,120.7 303.2,120.1 303.7,119.1 304.3,118.1 304.6,117.1 305.0,115.6 305.4,115.1 305.7,113.5 306.0,112.4 306.4,111.2 306.7,110.2 307.0,108.9 307.3,107.8 307.6,107.3 307.9,105.9 308.5,103.9 308.9,103.0 309.4,102.1 309.8,100.8 310.1,100.3 310.5,98.9 310.9,97.5 311.2,99.4 311.5,100.9 311.8,102.3 312.1,103.4 312.5,104.7 312.8,105.7 312.9,106.8 313.1,107.4 313.2,108.6 313.3,109.6 313.5,111.1 313.6,112.6 313.9,113.5 314.2,114.3 314.6,115.4 314.9,116.7 315.3,117.6 315.8,119.4 316.2,120.2 316.6,121.1 317.1,122.4 317.6,124.1 318.2,124.7 318.7,126.4 319.5,127.2 320.4,127.6 321.2,128.7 322.3,128.9 323.5,130.2 324.6,130.2 325.7,130.2 326.9,130.2 328.0,130.2 329.1,130.2 330.3,130.2 331.4,130.2 332.5,130.2 333.7,130.2 334.8,130.2 335.9,130.2 337.1,130.2 338.2,130.2 339.3,130.2 340.5,130.2 341.6,130.2 342.7,130.2 343.9,130.2 345.0,130.2" fill="none" stroke="#000" stroke-width="1.8" stroke-linejoin="round" stroke-linecap="round" opacity="1"/>
<rect x="286.3" y="88.6" width="58.19999999999999" height="41.30000000000001" fill="none" stroke="#555" stroke-width="1"/>
<line x1="286.3" y1="88.1" x2="286.3" y2="130.4" stroke="#111" stroke-width="1.6"/>
<line x1="285.8" y1="129.9" x2="345.0" y2="129.9" stroke="#111" stroke-width="1.6"/>
<text x="281.80" y="91.19" font-size="7.2" fill="#111" stroke="#111" stroke-width="0.3" text-anchor="end">65</text>
<line x1="284.3" y1="88.60" x2="286.3" y2="88.60" stroke="#999" stroke-width="0.6"/>
<text x="281.80" y="101.52" font-size="7.2" fill="#111" stroke="#111" stroke-width="0.3" text-anchor="end">49</text>
<line x1="284.3" y1="98.92" x2="286.3" y2="98.92" stroke="#999" stroke-width="0.6"/>
<text x="281.80" y="111.84" font-size="7.2" fill="#111" stroke="#111" stroke-width="0.3" text-anchor="end">33</text>
<line x1="284.3" y1="109.25" x2="286.3" y2="109.25" stroke="#999" stroke-width="0.6"/>
<text x="281.80" y="122.17" font-size="7.2" fill="#111" stroke="#111" stroke-width="0.3" text-anchor="end">16</text>
<line x1="284.3" y1="119.58" x2="286.3" y2="119.58" stroke="#999" stroke-width="0.6"/>
<text x="281.80" y="132.49" font-size="7.2" fill="#111" stroke="#111" stroke-width="0.3" text-anchor="end">0</text>
<line x1="284.3" y1="129.90" x2="286.3" y2="129.90" stroke="#999" stroke-width="0.6"/>
<line x1="290.68" y1="129.9" x2="290.68" y2="131.50" stroke="#c8c8c8" stroke-width="0.6"/>
<line x1="293.24" y1="129.9" x2="293.24" y2="131.50" stroke="#c8c8c8" stroke-width="0.6"/>
<line x1="295.06" y1="129.9" x2="295.06" y2="131.50" stroke="#c8c8c8" stroke-width="0.6"/>
<line x1="296.47" y1="129.9" x2="296.47" y2="131.50" stroke="#c8c8c8" stroke-width="0.6"/>
<line x1="297.62" y1="129.9" x2="297.62" y2="131.50" stroke="#c8c8c8" stroke-width="0.6"/>
<line x1="298.60" y1="129.9" x2="298.60" y2="131.50" stroke="#c8c8c8" stroke-width="0.6"/>
<line x1="299.44" y1="129.9" x2="299.44" y2="131.50" stroke="#c8c8c8" stroke-width="0.6"/>
<line x1="300.18" y1="129.9" x2="300.18" y2="131.50" stroke="#c8c8c8" stroke-width="0.6"/>
<line x1="300.85" y1="129.9" x2="300.85" y2="132.10" stroke="#999" stroke-width="0.6"/>
<line x1="305.23" y1="129.9" x2="305.23" y2="131.50" stroke="#c8c8c8" stroke-width="0.6"/>
<line x1="307.79" y1="129.9" x2="307.79" y2="131.50" stroke="#c8c8c8" stroke-width="0.6"/>
<line x1="309.61" y1="129.9" x2="309.61" y2="131.50" stroke="#c8c8c8" stroke-width="0.6"/>
<line x1="311.02" y1="129.9" x2="311.02" y2="131.50" stroke="#c8c8c8" stroke-width="0.6"/>
<line x1="312.17" y1="129.9" x2="312.17" y2="131.50" stroke="#c8c8c8" stroke-width="0.6"/>
<line x1="313.15" y1="129.9" x2="313.15" y2="131.50" stroke="#c8c8c8" stroke-width="0.6"/>
<line x1="313.99" y1="129.9" x2="313.99" y2="131.50" stroke="#c8c8c8" stroke-width="0.6"/>
<line x1="314.73" y1="129.9" x2="314.73" y2="131.50" stroke="#c8c8c8" stroke-width="0.6"/>
<line x1="315.40" y1="129.9" x2="315.40" y2="132.10" stroke="#999" stroke-width="0.6"/>
<line x1="319.78" y1="129.9" x2="319.78" y2="131.50" stroke="#c8c8c8" stroke-width="0.6"/>
<line x1="322.34" y1="129.9" x2="322.34" y2="131.50" stroke="#c8c8c8" stroke-width="0.6"/>
<line x1="324.16" y1="129.9" x2="324.16" y2="131.50" stroke="#c8c8c8" stroke-width="0.6"/>
<line x1="325.57" y1="129.9" x2="325.57" y2="131.50" stroke="#c8c8c8" stroke-width="0.6"/>
<line x1="326.72" y1="129.9" x2="326.72" y2="131.50" stroke="#c8c8c8" stroke-width="0.6"/>
<line x1="327.70" y1="129.9" x2="327.70" y2="131.50" stroke="#c8c8c8" stroke-width="0.6"/>
<line x1="328.54" y1="129.9" x2="328.54" y2="131.50" stroke="#c8c8c8" stroke-width="0.6"/>
<line x1="329.28" y1="129.9" x2="329.28" y2="131.50" stroke="#c8c8c8" stroke-width="0.6"/>
<line x1="329.95" y1="129.9" x2="329.95" y2="132.10" stroke="#999" stroke-width="0.6"/>
<line x1="334.33" y1="129.9" x2="334.33" y2="131.50" stroke="#c8c8c8" stroke-width="0.6"/>
<line x1="336.89" y1="129.9" x2="336.89" y2="131.50" stroke="#c8c8c8" stroke-width="0.6"/>
<line x1="338.71" y1="129.9" x2="338.71" y2="131.50" stroke="#c8c8c8" stroke-width="0.6"/>
<line x1="340.12" y1="129.9" x2="340.12" y2="131.50" stroke="#c8c8c8" stroke-width="0.6"/>
<line x1="341.27" y1="129.9" x2="341.27" y2="131.50" stroke="#c8c8c8" stroke-width="0.6"/>
<line x1="342.25" y1="129.9" x2="342.25" y2="131.50" stroke="#c8c8c8" stroke-width="0.6"/>
<line x1="343.09" y1="129.9" x2="343.09" y2="131.50" stroke="#c8c8c8" stroke-width="0.6"/>
<line x1="343.83" y1="129.9" x2="343.83" y2="131.50" stroke="#c8c8c8" stroke-width="0.6"/>
</g>
<text x="206.30" y="143.40" font-size="6.4" fill="#222" stroke="#222" stroke-width="0.5" font-weight="bold" textLength="15.80" lengthAdjust="spacingAndGlyphs">TRAIL</text>
<text x="303.80" y="143.60" font-size="6.4" fill="#222" stroke="#222" stroke-width="0.5" font-weight="bold" textLength="15.60" lengthAdjust="spacingAndGlyphs">TRAIL</text>
<g>
<clipPath id="c186155"><rect x="186.1" y="155.5" width="61.30000000000001" height="39.69999999999999"/></clipPath>
<polygon clip-path="url(#c186155)" points="186.4,195.2 186.4,192.5 189.0,191.0 191.5,188.0 193.5,183.0 195.5,177.0 197.5,171.0 199.0,166.5 200.5,164.0 202.0,165.0 203.5,170.0 205.0,177.0 206.5,183.0 208.0,188.5 210.0,192.0 213.0,194.7 213.0,195.2" fill="#8f9f9e" stroke="none"/>
<polyline clip-path="url(#c186155)" points="187.0,191.0 188.1,190.6 189.1,189.7 189.8,188.9 190.5,187.6 191.2,187.0 191.6,185.9 192.0,184.8 192.5,183.6 192.9,182.5 193.3,181.3 193.7,180.7 194.1,179.0 194.6,177.7 195.0,176.9 195.4,175.8 195.7,174.2 196.1,173.3 196.4,171.8 196.8,171.3 197.1,170.1 197.4,168.6 197.8,167.9 198.1,166.6 198.5,165.4 198.8,164.4 199.4,163.4 199.9,161.8 200.5,161.0 200.9,158.9 201.4,160.2 201.8,160.9 202.1,162.5 202.4,164.2 202.7,165.4 203.0,166.2 203.2,167.2 203.4,168.3 203.7,169.9 203.9,171.2 204.1,172.2 204.3,172.9 204.5,173.9 204.8,175.1 205.0,176.5 205.3,177.6 205.5,178.9 205.8,179.8 206.0,181.2 206.3,182.0 206.7,182.9 207.1,183.8 207.4,185.3 207.8,186.7 208.1,187.5 208.6,188.7 209.1,189.6 209.7,190.8 210.2,191.9 211.1,192.5 211.9,193.2 212.8,193.9 213.9,194.1 215.0,195.5 216.1,195.5 217.2,195.5 218.3,195.5 219.4,195.5 220.5,195.5 221.6,195.5 222.7,195.5 223.9,195.5 225.0,195.5 226.1,195.5 227.2,195.5 228.3,195.5 229.4,195.5 230.5,195.5 231.6,195.5 232.7,195.5 233.8,195.5 234.9,195.5 236.0,195.5 237.1,195.5 238.2,195.5 239.4,195.5 240.5,195.5 241.6,195.5 242.7,195.5 243.8,195.5 244.9,195.5 246.0,195.5" fill="none" stroke="#000" stroke-width="1.8" stroke-linejoin="round" stroke-linecap="round" opacity="1"/>
<rect x="186.1" y="155.5" width="61.30000000000001" height="39.69999999999999" fill="none" stroke="#555" stroke-width="1"/>
<line x1="186.1" y1="155.0" x2="186.1" y2="195.7" stroke="#111" stroke-width="1.6"/>
<line x1="185.6" y1="195.2" x2="247.9" y2="195.2" stroke="#111" stroke-width="1.6"/>
<text x="181.80" y="158.09" font-size="7.2" fill="#111" stroke="#111" stroke-width="0.3" text-anchor="end">50</text>
<line x1="184.1" y1="155.50" x2="186.1" y2="155.50" stroke="#999" stroke-width="0.6"/>
<text x="181.80" y="168.02" font-size="7.2" fill="#111" stroke="#111" stroke-width="0.3" text-anchor="end">38</text>
<line x1="184.1" y1="165.43" x2="186.1" y2="165.43" stroke="#999" stroke-width="0.6"/>
<text x="181.80" y="177.94" font-size="7.2" fill="#111" stroke="#111" stroke-width="0.3" text-anchor="end">25</text>
<line x1="184.1" y1="175.35" x2="186.1" y2="175.35" stroke="#999" stroke-width="0.6"/>
<text x="181.80" y="187.87" font-size="7.2" fill="#111" stroke="#111" stroke-width="0.3" text-anchor="end">13</text>
<line x1="184.1" y1="185.27" x2="186.1" y2="185.27" stroke="#999" stroke-width="0.6"/>
<text x="181.80" y="197.79" font-size="7.2" fill="#111" stroke="#111" stroke-width="0.3" text-anchor="end">0</text>
<line x1="184.1" y1="195.20" x2="186.1" y2="195.20" stroke="#999" stroke-width="0.6"/>
<line x1="190.71" y1="195.2" x2="190.71" y2="196.80" stroke="#c8c8c8" stroke-width="0.6"/>
<line x1="193.41" y1="195.2" x2="193.41" y2="196.80" stroke="#c8c8c8" stroke-width="0.6"/>
<line x1="195.33" y1="195.2" x2="195.33" y2="196.80" stroke="#c8c8c8" stroke-width="0.6"/>
<line x1="196.81" y1="195.2" x2="196.81" y2="196.80" stroke="#c8c8c8" stroke-width="0.6"/>
<line x1="198.03" y1="195.2" x2="198.03" y2="196.80" stroke="#c8c8c8" stroke-width="0.6"/>
<line x1="199.05" y1="195.2" x2="199.05" y2="196.80" stroke="#c8c8c8" stroke-width="0.6"/>
<line x1="199.94" y1="195.2" x2="199.94" y2="196.80" stroke="#c8c8c8" stroke-width="0.6"/>
<line x1="200.72" y1="195.2" x2="200.72" y2="196.80" stroke="#c8c8c8" stroke-width="0.6"/>
<line x1="201.43" y1="195.2" x2="201.43" y2="197.40" stroke="#999" stroke-width="0.6"/>
<line x1="206.04" y1="195.2" x2="206.04" y2="196.80" stroke="#c8c8c8" stroke-width="0.6"/>
<line x1="208.74" y1="195.2" x2="208.74" y2="196.80" stroke="#c8c8c8" stroke-width="0.6"/>
<line x1="210.65" y1="195.2" x2="210.65" y2="196.80" stroke="#c8c8c8" stroke-width="0.6"/>
<line x1="212.14" y1="195.2" x2="212.14" y2="196.80" stroke="#c8c8c8" stroke-width="0.6"/>
<line x1="213.35" y1="195.2" x2="213.35" y2="196.80" stroke="#c8c8c8" stroke-width="0.6"/>
<line x1="214.38" y1="195.2" x2="214.38" y2="196.80" stroke="#c8c8c8" stroke-width="0.6"/>
<line x1="215.26" y1="195.2" x2="215.26" y2="196.80" stroke="#c8c8c8" stroke-width="0.6"/>
<line x1="216.05" y1="195.2" x2="216.05" y2="196.80" stroke="#c8c8c8" stroke-width="0.6"/>
<line x1="216.75" y1="195.2" x2="216.75" y2="197.40" stroke="#999" stroke-width="0.6"/>
<line x1="221.36" y1="195.2" x2="221.36" y2="196.80" stroke="#c8c8c8" stroke-width="0.6"/>
<line x1="224.06" y1="195.2" x2="224.06" y2="196.80" stroke="#c8c8c8" stroke-width="0.6"/>
<line x1="225.98" y1="195.2" x2="225.98" y2="196.80" stroke="#c8c8c8" stroke-width="0.6"/>
<line x1="227.46" y1="195.2" x2="227.46" y2="196.80" stroke="#c8c8c8" stroke-width="0.6"/>
<line x1="228.68" y1="195.2" x2="228.68" y2="196.80" stroke="#c8c8c8" stroke-width="0.6"/>
<line x1="229.70" y1="195.2" x2="229.70" y2="196.80" stroke="#c8c8c8" stroke-width="0.6"/>
<line x1="230.59" y1="195.2" x2="230.59" y2="196.80" stroke="#c8c8c8" stroke-width="0.6"/>
<line x1="231.37" y1="195.2" x2="231.37" y2="196.80" stroke="#c8c8c8" stroke-width="0.6"/>
<line x1="232.07" y1="195.2" x2="232.07" y2="197.40" stroke="#999" stroke-width="0.6"/>
<line x1="236.69" y1="195.2" x2="236.69" y2="196.80" stroke="#c8c8c8" stroke-width="0.6"/>
<line x1="239.39" y1="195.2" x2="239.39" y2="196.80" stroke="#c8c8c8" stroke-width="0.6"/>
<line x1="241.30" y1="195.2" x2="241.30" y2="196.80" stroke="#c8c8c8" stroke-width="0.6"/>
<line x1="242.79" y1="195.2" x2="242.79" y2="196.80" stroke="#c8c8c8" stroke-width="0.6"/>
<line x1="244.00" y1="195.2" x2="244.00" y2="196.80" stroke="#c8c8c8" stroke-width="0.6"/>
<line x1="245.03" y1="195.2" x2="245.03" y2="196.80" stroke="#c8c8c8" stroke-width="0.6"/>
<line x1="245.91" y1="195.2" x2="245.91" y2="196.80" stroke="#c8c8c8" stroke-width="0.6"/>
<line x1="246.70" y1="195.2" x2="246.70" y2="196.80" stroke="#c8c8c8" stroke-width="0.6"/>
</g>
<g>
<clipPath id="c286159"><rect x="286.1" y="159.1" width="61.299999999999955" height="36.70000000000002"/></clipPath>
<polygon clip-path="url(#c286159)" points="286.4,195.8 286.4,187.0 287.4,185.5 289.0,180.4 290.8,173.6 292.5,168.5 293.7,165.2 295.4,164.3 296.7,165.2 298.0,168.5 299.2,171.9 300.5,179.5 301.8,187.1 303.5,192.2 306.0,194.8 308.5,195.6 308.5,195.8" fill="#8f9f9e" stroke="none"/>
<polyline clip-path="url(#c286159)" points="287.0,190.8 288.2,191.6 288.8,189.9 289.3,189.3 289.9,188.3 290.3,187.1 290.7,185.6 291.2,184.7 291.6,183.5 292.0,182.4 292.4,180.8 292.9,179.7 293.3,178.4 293.8,177.4 294.2,176.6 294.7,175.3 295.2,174.0 295.8,172.5 296.3,171.1 297.1,170.2 298.0,169.0 299.2,168.7 300.9,169.7 301.5,171.5 302.2,172.6 302.5,173.7 302.9,175.4 303.2,176.6 303.5,177.5 303.8,179.2 304.2,180.2 304.5,181.6 304.9,182.9 305.2,183.8 305.6,185.1 306.0,186.7 306.4,187.9 306.8,189.0 307.4,189.5 308.1,190.3 308.8,191.7 309.4,192.8 310.5,193.0 311.7,194.1 312.8,194.8 314.1,196.1 315.3,196.1 316.6,196.1 317.8,196.1 318.9,196.1 320.1,196.1 321.2,196.1 322.3,196.1 323.4,196.1 324.6,196.1 325.7,196.1 326.8,196.1 328.0,196.1 329.1,196.1 330.2,196.1 331.3,196.1 332.5,196.1 333.6,196.1 334.7,196.1 335.8,196.1 337.0,196.1 338.1,196.1 339.2,196.1 340.4,196.1 341.5,196.1 342.6,196.1 343.7,196.1 344.9,196.1 346.0,196.1" fill="none" stroke="#000" stroke-width="1.8" stroke-linejoin="round" stroke-linecap="round" opacity="1"/>
<rect x="286.1" y="159.1" width="61.299999999999955" height="36.70000000000002" fill="none" stroke="#555" stroke-width="1"/>
<line x1="286.1" y1="158.6" x2="286.1" y2="196.3" stroke="#111" stroke-width="1.6"/>
<line x1="285.6" y1="195.8" x2="347.9" y2="195.8" stroke="#111" stroke-width="1.6"/>
<text x="281.80" y="161.69" font-size="7.2" fill="#111" stroke="#111" stroke-width="0.3" text-anchor="end">50</text>
<line x1="284.1" y1="159.10" x2="286.1" y2="159.10" stroke="#999" stroke-width="0.6"/>
<text x="281.80" y="170.87" font-size="7.2" fill="#111" stroke="#111" stroke-width="0.3" text-anchor="end">38</text>
<line x1="284.1" y1="168.28" x2="286.1" y2="168.28" stroke="#999" stroke-width="0.6"/>
<text x="281.80" y="180.04" font-size="7.2" fill="#111" stroke="#111" stroke-width="0.3" text-anchor="end">25</text>
<line x1="284.1" y1="177.45" x2="286.1" y2="177.45" stroke="#999" stroke-width="0.6"/>
<text x="281.80" y="189.22" font-size="7.2" fill="#111" stroke="#111" stroke-width="0.3" text-anchor="end">13</text>
<line x1="284.1" y1="186.62" x2="286.1" y2="186.62" stroke="#999" stroke-width="0.6"/>
<text x="281.80" y="198.39" font-size="7.2" fill="#111" stroke="#111" stroke-width="0.3" text-anchor="end">0</text>
<line x1="284.1" y1="195.80" x2="286.1" y2="195.80" stroke="#999" stroke-width="0.6"/>
<line x1="290.71" y1="195.8" x2="290.71" y2="197.40" stroke="#c8c8c8" stroke-width="0.6"/>
<line x1="293.41" y1="195.8" x2="293.41" y2="197.40" stroke="#c8c8c8" stroke-width="0.6"/>
<line x1="295.33" y1="195.8" x2="295.33" y2="197.40" stroke="#c8c8c8" stroke-width="0.6"/>
<line x1="296.81" y1="195.8" x2="296.81" y2="197.40" stroke="#c8c8c8" stroke-width="0.6"/>
<line x1="298.03" y1="195.8" x2="298.03" y2="197.40" stroke="#c8c8c8" stroke-width="0.6"/>
<line x1="299.05" y1="195.8" x2="299.05" y2="197.40" stroke="#c8c8c8" stroke-width="0.6"/>
<line x1="299.94" y1="195.8" x2="299.94" y2="197.40" stroke="#c8c8c8" stroke-width="0.6"/>
<line x1="300.72" y1="195.8" x2="300.72" y2="197.40" stroke="#c8c8c8" stroke-width="0.6"/>
<line x1="301.43" y1="195.8" x2="301.43" y2="198.00" stroke="#999" stroke-width="0.6"/>
<line x1="306.04" y1="195.8" x2="306.04" y2="197.40" stroke="#c8c8c8" stroke-width="0.6"/>
<line x1="308.74" y1="195.8" x2="308.74" y2="197.40" stroke="#c8c8c8" stroke-width="0.6"/>
<line x1="310.65" y1="195.8" x2="310.65" y2="197.40" stroke="#c8c8c8" stroke-width="0.6"/>
<line x1="312.14" y1="195.8" x2="312.14" y2="197.40" stroke="#c8c8c8" stroke-width="0.6"/>
<line x1="313.35" y1="195.8" x2="313.35" y2="197.40" stroke="#c8c8c8" stroke-width="0.6"/>
<line x1="314.38" y1="195.8" x2="314.38" y2="197.40" stroke="#c8c8c8" stroke-width="0.6"/>
<line x1="315.26" y1="195.8" x2="315.26" y2="197.40" stroke="#c8c8c8" stroke-width="0.6"/>
<line x1="316.05" y1="195.8" x2="316.05" y2="197.40" stroke="#c8c8c8" stroke-width="0.6"/>
<line x1="316.75" y1="195.8" x2="316.75" y2="198.00" stroke="#999" stroke-width="0.6"/>
<line x1="321.36" y1="195.8" x2="321.36" y2="197.40" stroke="#c8c8c8" stroke-width="0.6"/>
<line x1="324.06" y1="195.8" x2="324.06" y2="197.40" stroke="#c8c8c8" stroke-width="0.6"/>
<line x1="325.98" y1="195.8" x2="325.98" y2="197.40" stroke="#c8c8c8" stroke-width="0.6"/>
<line x1="327.46" y1="195.8" x2="327.46" y2="197.40" stroke="#c8c8c8" stroke-width="0.6"/>
<line x1="328.68" y1="195.8" x2="328.68" y2="197.40" stroke="#c8c8c8" stroke-width="0.6"/>
<line x1="329.70" y1="195.8" x2="329.70" y2="197.40" stroke="#c8c8c8" stroke-width="0.6"/>
<line x1="330.59" y1="195.8" x2="330.59" y2="197.40" stroke="#c8c8c8" stroke-width="0.6"/>
<line x1="331.37" y1="195.8" x2="331.37" y2="197.40" stroke="#c8c8c8" stroke-width="0.6"/>
<line x1="332.07" y1="195.8" x2="332.07" y2="198.00" stroke="#999" stroke-width="0.6"/>
<line x1="336.69" y1="195.8" x2="336.69" y2="197.40" stroke="#c8c8c8" stroke-width="0.6"/>
<line x1="339.39" y1="195.8" x2="339.39" y2="197.40" stroke="#c8c8c8" stroke-width="0.6"/>
<line x1="341.30" y1="195.8" x2="341.30" y2="197.40" stroke="#c8c8c8" stroke-width="0.6"/>
<line x1="342.79" y1="195.8" x2="342.79" y2="197.40" stroke="#c8c8c8" stroke-width="0.6"/>
<line x1="344.00" y1="195.8" x2="344.00" y2="197.40" stroke="#c8c8c8" stroke-width="0.6"/>
<line x1="345.03" y1="195.8" x2="345.03" y2="197.40" stroke="#c8c8c8" stroke-width="0.6"/>
<line x1="345.91" y1="195.8" x2="345.91" y2="197.40" stroke="#c8c8c8" stroke-width="0.6"/>
<line x1="346.70" y1="195.8" x2="346.70" y2="197.40" stroke="#c8c8c8" stroke-width="0.6"/>
</g>
<text x="204.30" y="211.80" font-size="6.8" fill="#222" stroke="#222" stroke-width="0.5" font-weight="bold" textLength="13.80" lengthAdjust="spacingAndGlyphs">Fas-L</text>
<text x="304.00" y="211.90" font-size="6.8" fill="#222" stroke="#222" stroke-width="0.5" font-weight="bold" textLength="14.00" lengthAdjust="spacingAndGlyphs">Fas-L</text>
<g>
<clipPath id="c180221"><rect x="180.2" y="221.5" width="68.80000000000001" height="39.5"/></clipPath>
<polygon clip-path="url(#c180221)" points="180.5,261.0 180.5,250.0 181.5,251.0 183.0,247.0 184.5,241.0 186.0,236.0 187.5,231.0 188.5,229.0 189.5,232.0 190.5,233.0 192.0,238.0 194.0,243.0 195.5,247.0 197.0,252.0 198.0,255.0 199.5,257.0 201.5,258.5 203.0,260.5 203.0,261.0" fill="#8f9f9e" stroke="none"/>
<polyline clip-path="url(#c180221)" points="181.0,259.0 183.0,258.2 184.5,257.9 186.0,257.2 187.5,256.8 189.0,256.7 190.5,256.4 192.0,256.0 193.5,256.2 195.0,255.6 196.5,255.3 198.0,254.6 198.7,254.3 199.3,252.7 200.0,252.4 200.5,251.1 201.0,250.3 201.5,249.2 202.0,247.7 202.5,247.0 203.0,246.0 203.5,244.9 204.0,244.3 204.3,242.6 204.6,241.3 204.9,240.5 205.2,239.2 205.5,237.7 205.8,237.0 206.1,235.5 206.4,234.3 206.7,232.9 207.0,232.0 207.5,230.3 208.0,229.0 208.5,227.9 209.5,227.6 210.0,229.6 210.5,230.7 211.0,232.3 211.3,233.5 211.6,234.1 211.9,235.6 212.2,236.8 212.5,237.8 212.8,239.0 213.0,240.0 213.2,241.7 213.5,242.3 213.8,243.9 214.0,244.7 214.3,246.1 214.7,247.3 215.0,248.9 215.3,249.8 215.7,250.5 216.0,252.2 216.5,253.0 217.0,254.2 217.5,255.5 218.0,257.3 219.0,258.4 220.0,259.5 221.5,259.9 223.0,261.3 224.1,261.3 225.3,261.3 226.4,261.3 227.6,261.3 228.7,261.3 229.9,261.3 231.0,261.3 232.1,261.3 233.3,261.3 234.4,261.3 235.6,261.3 236.7,261.3 237.9,261.3 239.0,261.3 240.1,261.3 241.3,261.3 242.4,261.3 243.6,261.3 244.7,261.3 245.9,261.3 247.0,261.3" fill="none" stroke="#000" stroke-width="1.8" stroke-linejoin="round" stroke-linecap="round" opacity="1"/>
<rect x="180.2" y="221.5" width="68.80000000000001" height="39.5" fill="none" stroke="#555" stroke-width="1"/>
<line x1="180.2" y1="221.0" x2="180.2" y2="261.5" stroke="#111" stroke-width="1.6"/>
<line x1="179.7" y1="261.0" x2="249.5" y2="261.0" stroke="#111" stroke-width="1.6"/>
<text x="174.80" y="224.09" font-size="7.2" fill="#111" stroke="#111" stroke-width="0.3" text-anchor="end">50</text>
<line x1="178.2" y1="221.50" x2="180.2" y2="221.50" stroke="#999" stroke-width="0.6"/>
<text x="174.80" y="233.97" font-size="7.2" fill="#111" stroke="#111" stroke-width="0.3" text-anchor="end">38</text>
<line x1="178.2" y1="231.38" x2="180.2" y2="231.38" stroke="#999" stroke-width="0.6"/>
<text x="174.80" y="243.84" font-size="7.2" fill="#111" stroke="#111" stroke-width="0.3" text-anchor="end">25</text>
<line x1="178.2" y1="241.25" x2="180.2" y2="241.25" stroke="#999" stroke-width="0.6"/>
<text x="174.80" y="253.72" font-size="7.2" fill="#111" stroke="#111" stroke-width="0.3" text-anchor="end">13</text>
<line x1="178.2" y1="251.12" x2="180.2" y2="251.12" stroke="#999" stroke-width="0.6"/>
<text x="174.80" y="263.59" font-size="7.2" fill="#111" stroke="#111" stroke-width="0.3" text-anchor="end">0</text>
<line x1="178.2" y1="261.00" x2="180.2" y2="261.00" stroke="#999" stroke-width="0.6"/>
<line x1="185.38" y1="261.0" x2="185.38" y2="262.60" stroke="#c8c8c8" stroke-width="0.6"/>
<line x1="188.41" y1="261.0" x2="188.41" y2="262.60" stroke="#c8c8c8" stroke-width="0.6"/>
<line x1="190.56" y1="261.0" x2="190.56" y2="262.60" stroke="#c8c8c8" stroke-width="0.6"/>
<line x1="192.22" y1="261.0" x2="192.22" y2="262.60" stroke="#c8c8c8" stroke-width="0.6"/>
<line x1="193.58" y1="261.0" x2="193.58" y2="262.60" stroke="#c8c8c8" stroke-width="0.6"/>
<line x1="194.74" y1="261.0" x2="194.74" y2="262.60" stroke="#c8c8c8" stroke-width="0.6"/>
<line x1="195.73" y1="261.0" x2="195.73" y2="262.60" stroke="#c8c8c8" stroke-width="0.6"/>
<line x1="196.61" y1="261.0" x2="196.61" y2="262.60" stroke="#c8c8c8" stroke-width="0.6"/>
<line x1="197.40" y1="261.0" x2="197.40" y2="263.20" stroke="#999" stroke-width="0.6"/>
<line x1="202.58" y1="261.0" x2="202.58" y2="262.60" stroke="#c8c8c8" stroke-width="0.6"/>
<line x1="205.61" y1="261.0" x2="205.61" y2="262.60" stroke="#c8c8c8" stroke-width="0.6"/>
<line x1="207.76" y1="261.0" x2="207.76" y2="262.60" stroke="#c8c8c8" stroke-width="0.6"/>
<line x1="209.42" y1="261.0" x2="209.42" y2="262.60" stroke="#c8c8c8" stroke-width="0.6"/>
<line x1="210.78" y1="261.0" x2="210.78" y2="262.60" stroke="#c8c8c8" stroke-width="0.6"/>
<line x1="211.94" y1="261.0" x2="211.94" y2="262.60" stroke="#c8c8c8" stroke-width="0.6"/>
<line x1="212.93" y1="261.0" x2="212.93" y2="262.60" stroke="#c8c8c8" stroke-width="0.6"/>
<line x1="213.81" y1="261.0" x2="213.81" y2="262.60" stroke="#c8c8c8" stroke-width="0.6"/>
<line x1="214.60" y1="261.0" x2="214.60" y2="263.20" stroke="#999" stroke-width="0.6"/>
<line x1="219.78" y1="261.0" x2="219.78" y2="262.60" stroke="#c8c8c8" stroke-width="0.6"/>
<line x1="222.81" y1="261.0" x2="222.81" y2="262.60" stroke="#c8c8c8" stroke-width="0.6"/>
<line x1="224.96" y1="261.0" x2="224.96" y2="262.60" stroke="#c8c8c8" stroke-width="0.6"/>
<line x1="226.62" y1="261.0" x2="226.62" y2="262.60" stroke="#c8c8c8" stroke-width="0.6"/>
<line x1="227.98" y1="261.0" x2="227.98" y2="262.60" stroke="#c8c8c8" stroke-width="0.6"/>
<line x1="229.14" y1="261.0" x2="229.14" y2="262.60" stroke="#c8c8c8" stroke-width="0.6"/>
<line x1="230.13" y1="261.0" x2="230.13" y2="262.60" stroke="#c8c8c8" stroke-width="0.6"/>
<line x1="231.01" y1="261.0" x2="231.01" y2="262.60" stroke="#c8c8c8" stroke-width="0.6"/>
<line x1="231.80" y1="261.0" x2="231.80" y2="263.20" stroke="#999" stroke-width="0.6"/>
<line x1="236.98" y1="261.0" x2="236.98" y2="262.60" stroke="#c8c8c8" stroke-width="0.6"/>
<line x1="240.01" y1="261.0" x2="240.01" y2="262.60" stroke="#c8c8c8" stroke-width="0.6"/>
<line x1="242.16" y1="261.0" x2="242.16" y2="262.60" stroke="#c8c8c8" stroke-width="0.6"/>
<line x1="243.82" y1="261.0" x2="243.82" y2="262.60" stroke="#c8c8c8" stroke-width="0.6"/>
<line x1="245.18" y1="261.0" x2="245.18" y2="262.60" stroke="#c8c8c8" stroke-width="0.6"/>
<line x1="246.34" y1="261.0" x2="246.34" y2="262.60" stroke="#c8c8c8" stroke-width="0.6"/>
<line x1="247.33" y1="261.0" x2="247.33" y2="262.60" stroke="#c8c8c8" stroke-width="0.6"/>
<line x1="248.21" y1="261.0" x2="248.21" y2="262.60" stroke="#c8c8c8" stroke-width="0.6"/>
</g>
<g>
<clipPath id="c281224"><rect x="281.0" y="224.8" width="68.0" height="36.5"/></clipPath>
<polygon clip-path="url(#c281224)" points="281.6,261.3 281.6,252.0 282.0,252.0 283.8,249.6 285.6,244.8 287.3,238.9 289.1,234.1 290.3,232.3 291.5,235.3 293.3,240.1 295.1,247.2 296.9,254.4 298.7,259.1 299.9,260.7 299.9,261.3" fill="#8f9f9e" stroke="none"/>
<polyline clip-path="url(#c281224)" points="302.8,261.6 304.0,261.6 305.2,260.1 306.4,259.9 307.6,259.7 308.8,258.9 310.0,258.5 311.2,257.8 312.4,256.9 313.6,256.7 314.8,255.4 315.6,254.8 316.3,254.0 317.1,253.4 317.7,252.3 318.3,250.9 318.9,249.9 319.5,249.3 319.9,248.1 320.2,246.8 320.6,246.0 320.9,244.5 321.3,243.3 321.5,242.2 321.8,241.2 322.0,240.1 322.3,238.9 322.5,237.4 322.8,236.8 323.1,235.0 323.4,233.9 323.7,233.2 324.0,231.8 324.3,230.6 324.6,229.0 324.9,228.0 325.3,226.7 325.7,225.5 326.0,227.3 326.4,228.0 326.7,229.0 327.0,230.5 327.3,231.9 327.6,232.8 327.9,234.4 328.1,235.5 328.4,236.3 328.6,237.5 328.9,238.7 329.1,240.4 329.3,241.3 329.6,242.2 329.8,243.8 330.1,244.8 330.3,245.7 330.5,247.4 330.7,248.5 331.0,249.9 331.2,250.5 331.4,251.7 331.7,253.2 332.0,254.2 332.3,255.7 332.6,256.6 333.4,258.3 334.1,259.7 335.1,260.1 336.2,261.6 337.4,261.6 338.6,261.6 339.9,261.6 341.1,261.6 342.3,261.6 343.6,261.6 344.8,261.6 346.0,261.6" fill="none" stroke="#000" stroke-width="1.6" stroke-linejoin="round" stroke-linecap="round" opacity="1"/>
<rect x="281.0" y="224.8" width="68.0" height="36.5" fill="none" stroke="#555" stroke-width="1"/>
<line x1="281.0" y1="224.3" x2="281.0" y2="261.8" stroke="#111" stroke-width="1.6"/>
<line x1="280.5" y1="261.3" x2="349.5" y2="261.3" stroke="#111" stroke-width="1.6"/>
<text x="277.00" y="227.39" font-size="7.2" fill="#111" stroke="#111" stroke-width="0.3" text-anchor="end">60</text>
<line x1="279.0" y1="224.80" x2="281.0" y2="224.80" stroke="#999" stroke-width="0.6"/>
<text x="277.00" y="236.52" font-size="7.2" fill="#111" stroke="#111" stroke-width="0.3" text-anchor="end">45</text>
<line x1="279.0" y1="233.93" x2="281.0" y2="233.93" stroke="#999" stroke-width="0.6"/>
<text x="277.00" y="245.64" font-size="7.2" fill="#111" stroke="#111" stroke-width="0.3" text-anchor="end">30</text>
<line x1="279.0" y1="243.05" x2="281.0" y2="243.05" stroke="#999" stroke-width="0.6"/>
<text x="277.00" y="254.77" font-size="7.2" fill="#111" stroke="#111" stroke-width="0.3" text-anchor="end">15</text>
<line x1="279.0" y1="252.18" x2="281.0" y2="252.18" stroke="#999" stroke-width="0.6"/>
<text x="277.00" y="263.89" font-size="7.2" fill="#111" stroke="#111" stroke-width="0.3" text-anchor="end">0</text>
<line x1="279.0" y1="261.30" x2="281.0" y2="261.30" stroke="#999" stroke-width="0.6"/>
<line x1="286.12" y1="261.3" x2="286.12" y2="262.90" stroke="#c8c8c8" stroke-width="0.6"/>
<line x1="289.11" y1="261.3" x2="289.11" y2="262.90" stroke="#c8c8c8" stroke-width="0.6"/>
<line x1="291.24" y1="261.3" x2="291.24" y2="262.90" stroke="#c8c8c8" stroke-width="0.6"/>
<line x1="292.88" y1="261.3" x2="292.88" y2="262.90" stroke="#c8c8c8" stroke-width="0.6"/>
<line x1="294.23" y1="261.3" x2="294.23" y2="262.90" stroke="#c8c8c8" stroke-width="0.6"/>
<line x1="295.37" y1="261.3" x2="295.37" y2="262.90" stroke="#c8c8c8" stroke-width="0.6"/>
<line x1="296.35" y1="261.3" x2="296.35" y2="262.90" stroke="#c8c8c8" stroke-width="0.6"/>
<line x1="297.22" y1="261.3" x2="297.22" y2="262.90" stroke="#c8c8c8" stroke-width="0.6"/>
<line x1="298.00" y1="261.3" x2="298.00" y2="263.50" stroke="#999" stroke-width="0.6"/>
<line x1="303.12" y1="261.3" x2="303.12" y2="262.90" stroke="#c8c8c8" stroke-width="0.6"/>
<line x1="306.11" y1="261.3" x2="306.11" y2="262.90" stroke="#c8c8c8" stroke-width="0.6"/>
<line x1="308.24" y1="261.3" x2="308.24" y2="262.90" stroke="#c8c8c8" stroke-width="0.6"/>
<line x1="309.88" y1="261.3" x2="309.88" y2="262.90" stroke="#c8c8c8" stroke-width="0.6"/>
<line x1="311.23" y1="261.3" x2="311.23" y2="262.90" stroke="#c8c8c8" stroke-width="0.6"/>
<line x1="312.37" y1="261.3" x2="312.37" y2="262.90" stroke="#c8c8c8" stroke-width="0.6"/>
<line x1="313.35" y1="261.3" x2="313.35" y2="262.90" stroke="#c8c8c8" stroke-width="0.6"/>
<line x1="314.22" y1="261.3" x2="314.22" y2="262.90" stroke="#c8c8c8" stroke-width="0.6"/>
<line x1="315.00" y1="261.3" x2="315.00" y2="263.50" stroke="#999" stroke-width="0.6"/>
<line x1="320.12" y1="261.3" x2="320.12" y2="262.90" stroke="#c8c8c8" stroke-width="0.6"/>
<line x1="323.11" y1="261.3" x2="323.11" y2="262.90" stroke="#c8c8c8" stroke-width="0.6"/>
<line x1="325.24" y1="261.3" x2="325.24" y2="262.90" stroke="#c8c8c8" stroke-width="0.6"/>
<line x1="326.88" y1="261.3" x2="326.88" y2="262.90" stroke="#c8c8c8" stroke-width="0.6"/>
<line x1="328.23" y1="261.3" x2="328.23" y2="262.90" stroke="#c8c8c8" stroke-width="0.6"/>
<line x1="329.37" y1="261.3" x2="329.37" y2="262.90" stroke="#c8c8c8" stroke-width="0.6"/>
<line x1="330.35" y1="261.3" x2="330.35" y2="262.90" stroke="#c8c8c8" stroke-width="0.6"/>
<line x1="331.22" y1="261.3" x2="331.22" y2="262.90" stroke="#c8c8c8" stroke-width="0.6"/>
<line x1="332.00" y1="261.3" x2="332.00" y2="263.50" stroke="#999" stroke-width="0.6"/>
<line x1="337.12" y1="261.3" x2="337.12" y2="262.90" stroke="#c8c8c8" stroke-width="0.6"/>
<line x1="340.11" y1="261.3" x2="340.11" y2="262.90" stroke="#c8c8c8" stroke-width="0.6"/>
<line x1="342.24" y1="261.3" x2="342.24" y2="262.90" stroke="#c8c8c8" stroke-width="0.6"/>
<line x1="343.88" y1="261.3" x2="343.88" y2="262.90" stroke="#c8c8c8" stroke-width="0.6"/>
<line x1="345.23" y1="261.3" x2="345.23" y2="262.90" stroke="#c8c8c8" stroke-width="0.6"/>
<line x1="346.37" y1="261.3" x2="346.37" y2="262.90" stroke="#c8c8c8" stroke-width="0.6"/>
<line x1="347.35" y1="261.3" x2="347.35" y2="262.90" stroke="#c8c8c8" stroke-width="0.6"/>
<line x1="348.22" y1="261.3" x2="348.22" y2="262.90" stroke="#c8c8c8" stroke-width="0.6"/>
</g>
<text x="201.90" y="277.20" font-size="6.1" fill="#222" stroke="#222" stroke-width="0.5" font-weight="bold" textLength="20.00" lengthAdjust="spacingAndGlyphs">NKG2D</text>
<text x="299.90" y="277.20" font-size="6.1" fill="#222" stroke="#222" stroke-width="0.5" font-weight="bold" textLength="20.20" lengthAdjust="spacingAndGlyphs">NKG2D</text>
<text x="166.00" y="295.80" font-size="10.0" fill="#000" stroke="#000" stroke-width="0.2" font-weight="bold" textLength="73.60" lengthAdjust="spacingAndGlyphs">Freshly Isolated</text>
<text x="183.70" y="309.80" font-size="10.0" fill="#000" stroke="#000" stroke-width="0.2" font-weight="bold" textLength="38.30" lengthAdjust="spacingAndGlyphs">NK Cells</text>
<text x="273.50" y="296.90" font-size="10.0" fill="#000" stroke="#000" stroke-width="0.2" font-weight="bold" textLength="73.40" lengthAdjust="spacingAndGlyphs">Day 14 EBV-LCL</text>
<text x="264.70" y="310.70" font-size="10.0" fill="#000" stroke="#000" stroke-width="0.2" font-weight="bold" textLength="88.30" lengthAdjust="spacingAndGlyphs">Expanded NK Cells</text>
<g>
<clipPath id="c179323"><rect x="179.0" y="323.9" width="57.099999999999994" height="49.400000000000034"/></clipPath>
<polyline clip-path="url(#c179323)" points="191.0,373.6 192.3,372.0 193.7,371.5 195.0,371.1 196.0,370.6 197.0,369.7 198.0,368.9 198.8,368.0 199.5,366.9 200.2,366.0 201.0,364.7 201.6,364.2 202.2,362.7 202.8,361.7 203.4,360.7 204.0,360.2 204.5,358.8 205.0,358.3 205.5,356.8 206.0,355.7 206.5,354.9 207.0,353.8 207.5,352.3 208.0,351.4 208.5,349.8 209.0,348.7 209.5,348.0 210.0,346.9" fill="none" stroke="#7ddb3e" stroke-width="2.0" stroke-linejoin="round" stroke-linecap="round" opacity="0.9"/>
<polyline clip-path="url(#c179323)" points="210.0,346.9 210.5,347.9 211.0,349.2 211.5,349.7 211.9,350.9 212.2,352.6 212.6,353.8 213.0,354.7 213.4,356.0 213.8,357.3 214.2,358.3 214.6,360.1 215.0,361.0 215.5,362.3 216.0,363.5 216.5,364.7 217.0,366.3 217.5,367.1 218.0,368.2 218.5,369.2 219.0,370.0 219.8,371.2 220.5,372.0 222.0,373.6" fill="none" stroke="#b2ea88" stroke-width="2.0" stroke-linejoin="round" stroke-linecap="round" opacity="0.9"/>
<polyline clip-path="url(#c179323)" points="179.5,367.2 180.1,366.3 180.8,365.1 181.4,363.9 182.0,363.0 182.6,361.8 183.2,361.0 183.9,359.6 184.5,359.3 185.0,357.6 185.5,356.7 186.0,355.6 186.5,355.2 186.8,353.5 187.1,353.0 187.4,351.2 187.7,349.8 188.0,348.9 188.2,347.9 188.5,346.4 188.8,345.7 189.0,344.1 189.2,342.8 189.5,342.0 189.7,340.7 189.9,339.6 190.1,338.9 190.4,337.0 190.6,335.9 190.8,335.2 191.0,334.1 191.5,332.2 192.0,330.7 192.2,329.7 192.5,328.4 192.8,328.0 193.0,326.6 193.1,327.7 193.2,328.8 193.4,329.8 193.5,331.4 193.6,332.3 193.8,333.5 193.9,334.7 194.0,335.5 194.1,336.9 194.2,338.0 194.4,338.9 194.5,340.1 194.7,341.5 194.8,342.2 195.0,343.5 195.2,344.3 195.3,346.1 195.5,347.0 195.9,348.4 196.2,349.8 196.6,350.7 197.0,351.8 197.8,352.9 198.5,354.3 199.5,352.7 199.8,353.9 200.2,355.5 200.5,356.5 200.8,357.8 201.1,359.0 201.4,360.1 201.7,360.5 202.0,362.3 202.5,362.9 203.0,363.9 203.5,364.9 204.0,365.7 204.7,367.3 205.3,367.7 206.0,368.8 207.0,369.9 208.0,370.5 209.0,370.8 210.3,371.4 211.7,371.8 213.0,372.2 214.2,372.2 215.3,372.2 216.4,372.2 217.6,372.3 218.8,372.3 219.9,372.3 221.1,373.6 222.2,373.6 223.3,373.6 224.5,373.6 225.7,373.6 226.8,373.6 227.9,373.6 229.1,373.6 230.2,373.6 231.4,373.6 232.6,373.6 233.7,373.6 234.8,373.6 236.0,373.6" fill="none" stroke="#000" stroke-width="1.3" stroke-linejoin="round" stroke-linecap="round" opacity="1"/>
<rect x="179.0" y="323.9" width="57.099999999999994" height="49.400000000000034" fill="none" stroke="#666" stroke-width="1"/>
<line x1="179.0" y1="323.4" x2="179.0" y2="373.8" stroke="#111" stroke-width="1.6"/>
<line x1="178.5" y1="373.3" x2="236.6" y2="373.3" stroke="#111" stroke-width="1.6"/>
<text x="176.30" y="326.06" font-size="6.0" fill="#4a4a4a" stroke="#4a4a4a" stroke-width="0.15" text-anchor="end" textLength="5.40" lengthAdjust="spacingAndGlyphs">50</text>
<line x1="177.0" y1="323.90" x2="179.0" y2="323.90" stroke="#999" stroke-width="0.6"/>
<text x="176.30" y="338.41" font-size="6.0" fill="#4a4a4a" stroke="#4a4a4a" stroke-width="0.15" text-anchor="end" textLength="5.40" lengthAdjust="spacingAndGlyphs">38</text>
<line x1="177.0" y1="336.25" x2="179.0" y2="336.25" stroke="#999" stroke-width="0.6"/>
<text x="176.30" y="350.76" font-size="6.0" fill="#4a4a4a" stroke="#4a4a4a" stroke-width="0.15" text-anchor="end" textLength="5.40" lengthAdjust="spacingAndGlyphs">25</text>
<line x1="177.0" y1="348.60" x2="179.0" y2="348.60" stroke="#999" stroke-width="0.6"/>
<text x="176.30" y="363.11" font-size="6.0" fill="#4a4a4a" stroke="#4a4a4a" stroke-width="0.15" text-anchor="end" textLength="5.40" lengthAdjust="spacingAndGlyphs">13</text>
<line x1="177.0" y1="360.95" x2="179.0" y2="360.95" stroke="#999" stroke-width="0.6"/>
<text x="176.30" y="375.46" font-size="6.0" fill="#4a4a4a" stroke="#4a4a4a" stroke-width="0.15" text-anchor="end" textLength="2.70" lengthAdjust="spacingAndGlyphs">0</text>
<line x1="177.0" y1="373.30" x2="179.0" y2="373.30" stroke="#999" stroke-width="0.6"/>
<line x1="183.30" y1="373.3" x2="183.30" y2="374.90" stroke="#c8c8c8" stroke-width="0.6"/>
<line x1="185.81" y1="373.3" x2="185.81" y2="374.90" stroke="#c8c8c8" stroke-width="0.6"/>
<line x1="187.59" y1="373.3" x2="187.59" y2="374.90" stroke="#c8c8c8" stroke-width="0.6"/>
<line x1="188.98" y1="373.3" x2="188.98" y2="374.90" stroke="#c8c8c8" stroke-width="0.6"/>
<line x1="190.11" y1="373.3" x2="190.11" y2="374.90" stroke="#c8c8c8" stroke-width="0.6"/>
<line x1="191.06" y1="373.3" x2="191.06" y2="374.90" stroke="#c8c8c8" stroke-width="0.6"/>
<line x1="191.89" y1="373.3" x2="191.89" y2="374.90" stroke="#c8c8c8" stroke-width="0.6"/>
<line x1="192.62" y1="373.3" x2="192.62" y2="374.90" stroke="#c8c8c8" stroke-width="0.6"/>
<line x1="193.28" y1="373.3" x2="193.28" y2="375.50" stroke="#999" stroke-width="0.6"/>
<line x1="197.57" y1="373.3" x2="197.57" y2="374.90" stroke="#c8c8c8" stroke-width="0.6"/>
<line x1="200.09" y1="373.3" x2="200.09" y2="374.90" stroke="#c8c8c8" stroke-width="0.6"/>
<line x1="201.87" y1="373.3" x2="201.87" y2="374.90" stroke="#c8c8c8" stroke-width="0.6"/>
<line x1="203.25" y1="373.3" x2="203.25" y2="374.90" stroke="#c8c8c8" stroke-width="0.6"/>
<line x1="204.38" y1="373.3" x2="204.38" y2="374.90" stroke="#c8c8c8" stroke-width="0.6"/>
<line x1="205.34" y1="373.3" x2="205.34" y2="374.90" stroke="#c8c8c8" stroke-width="0.6"/>
<line x1="206.17" y1="373.3" x2="206.17" y2="374.90" stroke="#c8c8c8" stroke-width="0.6"/>
<line x1="206.90" y1="373.3" x2="206.90" y2="374.90" stroke="#c8c8c8" stroke-width="0.6"/>
<line x1="207.55" y1="373.3" x2="207.55" y2="375.50" stroke="#999" stroke-width="0.6"/>
<line x1="211.85" y1="373.3" x2="211.85" y2="374.90" stroke="#c8c8c8" stroke-width="0.6"/>
<line x1="214.36" y1="373.3" x2="214.36" y2="374.90" stroke="#c8c8c8" stroke-width="0.6"/>
<line x1="216.14" y1="373.3" x2="216.14" y2="374.90" stroke="#c8c8c8" stroke-width="0.6"/>
<line x1="217.53" y1="373.3" x2="217.53" y2="374.90" stroke="#c8c8c8" stroke-width="0.6"/>
<line x1="218.66" y1="373.3" x2="218.66" y2="374.90" stroke="#c8c8c8" stroke-width="0.6"/>
<line x1="219.61" y1="373.3" x2="219.61" y2="374.90" stroke="#c8c8c8" stroke-width="0.6"/>
<line x1="220.44" y1="373.3" x2="220.44" y2="374.90" stroke="#c8c8c8" stroke-width="0.6"/>
<line x1="221.17" y1="373.3" x2="221.17" y2="374.90" stroke="#c8c8c8" stroke-width="0.6"/>
<line x1="221.82" y1="373.3" x2="221.82" y2="375.50" stroke="#999" stroke-width="0.6"/>
<line x1="226.12" y1="373.3" x2="226.12" y2="374.90" stroke="#c8c8c8" stroke-width="0.6"/>
<line x1="228.64" y1="373.3" x2="228.64" y2="374.90" stroke="#c8c8c8" stroke-width="0.6"/>
<line x1="230.42" y1="373.3" x2="230.42" y2="374.90" stroke="#c8c8c8" stroke-width="0.6"/>
<line x1="231.80" y1="373.3" x2="231.80" y2="374.90" stroke="#c8c8c8" stroke-width="0.6"/>
<line x1="232.93" y1="373.3" x2="232.93" y2="374.90" stroke="#c8c8c8" stroke-width="0.6"/>
<line x1="233.89" y1="373.3" x2="233.89" y2="374.90" stroke="#c8c8c8" stroke-width="0.6"/>
<line x1="234.72" y1="373.3" x2="234.72" y2="374.90" stroke="#c8c8c8" stroke-width="0.6"/>
<line x1="235.45" y1="373.3" x2="235.45" y2="374.90" stroke="#c8c8c8" stroke-width="0.6"/>
</g>
<g>
<clipPath id="c282324"><rect x="282.3" y="324.7" width="57.19999999999999" height="49.900000000000034"/></clipPath>
<polyline clip-path="url(#c282324)" points="300.8,374.9 301.9,373.5 303.1,373.0 304.2,372.5 305.4,371.8 306.5,371.0 307.7,371.0 309.1,369.9 310.6,369.9 312.0,368.5 313.4,368.0 313.8,366.9 314.3,366.2 314.8,364.7 315.2,363.7 315.5,362.6 315.9,361.5 316.2,360.2 316.6,359.2 316.9,358.4 317.4,357.2 317.8,355.8 318.3,354.3 318.7,353.3 319.2,352.6 319.6,351.0 320.0,350.0 320.5,348.9 320.9,347.9 321.2,346.3 321.4,345.1 321.7,344.0 321.9,343.4 322.2,342.1 322.4,340.5 322.7,339.7 323.1,338.1 323.4,337.1 323.8,335.6" fill="none" stroke="#7ddb3e" stroke-width="2.0" stroke-linejoin="round" stroke-linecap="round" opacity="0.9"/>
<polyline clip-path="url(#c282324)" points="323.8,335.6 325.0,337.1 325.2,338.6 325.4,339.3 325.7,340.5 325.9,342.2 326.1,343.4 326.3,344.5 326.4,345.1 326.6,346.6 326.8,347.8 327.0,348.9 327.1,349.9 327.3,350.9 327.5,351.9 327.7,353.7 327.9,354.9 328.1,355.9 328.2,356.9 328.4,358.3 328.6,359.4 328.8,360.5 329.0,361.7 329.3,362.8 329.5,364.0 329.8,365.2 330.0,365.8 330.3,367.4 330.5,368.6 330.8,369.5 331.2,370.7 331.5,372.5 331.9,373.6" fill="none" stroke="#b2ea88" stroke-width="2.0" stroke-linejoin="round" stroke-linecap="round" opacity="0.9"/>
<polyline clip-path="url(#c282324)" points="282.3,367.3 282.9,366.0 283.4,364.6 284.0,364.2 284.4,362.4 284.7,361.9 285.1,360.1 285.4,359.4 285.8,358.1 286.1,357.4 286.5,355.6 286.8,354.5 287.2,353.4 287.5,352.3 287.7,351.0 287.9,350.0 288.1,349.3 288.4,348.1 288.6,346.6 288.8,345.0 289.0,344.1 289.2,343.4 289.4,341.8 289.6,340.8 289.9,339.7 290.1,338.7 290.3,337.0 290.6,335.7 290.8,334.7 291.0,334.2 291.2,333.0 291.3,331.2 291.5,330.5 291.6,329.1 291.8,328.3 291.9,326.9 292.1,325.5 293.3,327.1 293.5,327.6 293.7,328.8 293.9,330.6 294.0,331.9 294.2,333.0 294.4,333.4 294.5,335.1 294.7,336.3 294.9,337.4 295.0,338.3 295.1,339.4 295.3,340.4 295.5,342.2 295.6,343.5 295.7,344.5 295.8,345.5 295.9,346.9 296.0,348.0 296.1,349.1 296.3,350.2 296.4,351.4 296.5,352.5 296.6,353.7 296.7,354.2 296.8,355.9 297.0,357.2 297.1,357.9 297.2,358.9 297.4,360.7 297.5,361.2 297.6,363.0 297.8,363.4 297.9,364.8 298.2,366.3 298.6,367.4 298.9,368.3 299.3,369.9 299.6,370.9 300.8,371.6 301.9,373.0 303.1,373.3 304.2,373.5 305.4,374.9 306.5,374.9 307.6,374.9 308.8,374.9 309.9,374.9 311.0,374.9 312.1,374.9 313.2,374.9 314.4,374.9 315.5,374.9 316.6,374.9 317.7,374.9 318.8,374.9 320.0,374.9 321.1,374.9 322.2,374.9 323.3,374.9 324.4,374.9 325.6,374.9 326.7,374.9 327.8,374.9 328.9,374.9 330.0,374.9 331.2,374.9 332.3,374.9 333.4,374.9 334.5,374.9 335.6,374.9 336.8,374.9 337.9,374.9 339.0,374.9" fill="none" stroke="#000" stroke-width="1.3" stroke-linejoin="round" stroke-linecap="round" opacity="1"/>
<rect x="282.3" y="324.7" width="57.19999999999999" height="49.900000000000034" fill="none" stroke="#666" stroke-width="1"/>
<line x1="282.3" y1="324.2" x2="282.3" y2="375.1" stroke="#111" stroke-width="1.6"/>
<line x1="281.8" y1="374.6" x2="340.0" y2="374.6" stroke="#111" stroke-width="1.6"/>
<text x="279.50" y="326.86" font-size="6.0" fill="#4a4a4a" stroke="#4a4a4a" stroke-width="0.15" text-anchor="end" textLength="5.40" lengthAdjust="spacingAndGlyphs">60</text>
<line x1="280.3" y1="324.70" x2="282.3" y2="324.70" stroke="#999" stroke-width="0.6"/>
<text x="279.50" y="339.34" font-size="6.0" fill="#4a4a4a" stroke="#4a4a4a" stroke-width="0.15" text-anchor="end" textLength="5.40" lengthAdjust="spacingAndGlyphs">45</text>
<line x1="280.3" y1="337.18" x2="282.3" y2="337.18" stroke="#999" stroke-width="0.6"/>
<text x="279.50" y="351.81" font-size="6.0" fill="#4a4a4a" stroke="#4a4a4a" stroke-width="0.15" text-anchor="end" textLength="5.40" lengthAdjust="spacingAndGlyphs">30</text>
<line x1="280.3" y1="349.65" x2="282.3" y2="349.65" stroke="#999" stroke-width="0.6"/>
<text x="279.50" y="364.29" font-size="6.0" fill="#4a4a4a" stroke="#4a4a4a" stroke-width="0.15" text-anchor="end" textLength="5.40" lengthAdjust="spacingAndGlyphs">15</text>
<line x1="280.3" y1="362.12" x2="282.3" y2="362.12" stroke="#999" stroke-width="0.6"/>
<text x="279.50" y="376.76" font-size="6.0" fill="#4a4a4a" stroke="#4a4a4a" stroke-width="0.15" text-anchor="end" textLength="2.70" lengthAdjust="spacingAndGlyphs">0</text>
<line x1="280.3" y1="374.60" x2="282.3" y2="374.60" stroke="#999" stroke-width="0.6"/>
<line x1="286.60" y1="374.6" x2="286.60" y2="376.20" stroke="#c8c8c8" stroke-width="0.6"/>
<line x1="289.12" y1="374.6" x2="289.12" y2="376.20" stroke="#c8c8c8" stroke-width="0.6"/>
<line x1="290.91" y1="374.6" x2="290.91" y2="376.20" stroke="#c8c8c8" stroke-width="0.6"/>
<line x1="292.30" y1="374.6" x2="292.30" y2="376.20" stroke="#c8c8c8" stroke-width="0.6"/>
<line x1="293.43" y1="374.6" x2="293.43" y2="376.20" stroke="#c8c8c8" stroke-width="0.6"/>
<line x1="294.38" y1="374.6" x2="294.38" y2="376.20" stroke="#c8c8c8" stroke-width="0.6"/>
<line x1="295.21" y1="374.6" x2="295.21" y2="376.20" stroke="#c8c8c8" stroke-width="0.6"/>
<line x1="295.95" y1="374.6" x2="295.95" y2="376.20" stroke="#c8c8c8" stroke-width="0.6"/>
<line x1="296.60" y1="374.6" x2="296.60" y2="376.80" stroke="#999" stroke-width="0.6"/>
<line x1="300.90" y1="374.6" x2="300.90" y2="376.20" stroke="#c8c8c8" stroke-width="0.6"/>
<line x1="303.42" y1="374.6" x2="303.42" y2="376.20" stroke="#c8c8c8" stroke-width="0.6"/>
<line x1="305.21" y1="374.6" x2="305.21" y2="376.20" stroke="#c8c8c8" stroke-width="0.6"/>
<line x1="306.60" y1="374.6" x2="306.60" y2="376.20" stroke="#c8c8c8" stroke-width="0.6"/>
<line x1="307.73" y1="374.6" x2="307.73" y2="376.20" stroke="#c8c8c8" stroke-width="0.6"/>
<line x1="308.68" y1="374.6" x2="308.68" y2="376.20" stroke="#c8c8c8" stroke-width="0.6"/>
<line x1="309.51" y1="374.6" x2="309.51" y2="376.20" stroke="#c8c8c8" stroke-width="0.6"/>
<line x1="310.25" y1="374.6" x2="310.25" y2="376.20" stroke="#c8c8c8" stroke-width="0.6"/>
<line x1="310.90" y1="374.6" x2="310.90" y2="376.80" stroke="#999" stroke-width="0.6"/>
<line x1="315.20" y1="374.6" x2="315.20" y2="376.20" stroke="#c8c8c8" stroke-width="0.6"/>
<line x1="317.72" y1="374.6" x2="317.72" y2="376.20" stroke="#c8c8c8" stroke-width="0.6"/>
<line x1="319.51" y1="374.6" x2="319.51" y2="376.20" stroke="#c8c8c8" stroke-width="0.6"/>
<line x1="320.90" y1="374.6" x2="320.90" y2="376.20" stroke="#c8c8c8" stroke-width="0.6"/>
<line x1="322.03" y1="374.6" x2="322.03" y2="376.20" stroke="#c8c8c8" stroke-width="0.6"/>
<line x1="322.98" y1="374.6" x2="322.98" y2="376.20" stroke="#c8c8c8" stroke-width="0.6"/>
<line x1="323.81" y1="374.6" x2="323.81" y2="376.20" stroke="#c8c8c8" stroke-width="0.6"/>
<line x1="324.55" y1="374.6" x2="324.55" y2="376.20" stroke="#c8c8c8" stroke-width="0.6"/>
<line x1="325.20" y1="374.6" x2="325.20" y2="376.80" stroke="#999" stroke-width="0.6"/>
<line x1="329.50" y1="374.6" x2="329.50" y2="376.20" stroke="#c8c8c8" stroke-width="0.6"/>
<line x1="332.02" y1="374.6" x2="332.02" y2="376.20" stroke="#c8c8c8" stroke-width="0.6"/>
<line x1="333.81" y1="374.6" x2="333.81" y2="376.20" stroke="#c8c8c8" stroke-width="0.6"/>
<line x1="335.20" y1="374.6" x2="335.20" y2="376.20" stroke="#c8c8c8" stroke-width="0.6"/>
<line x1="336.33" y1="374.6" x2="336.33" y2="376.20" stroke="#c8c8c8" stroke-width="0.6"/>
<line x1="337.28" y1="374.6" x2="337.28" y2="376.20" stroke="#c8c8c8" stroke-width="0.6"/>
<line x1="338.11" y1="374.6" x2="338.11" y2="376.20" stroke="#c8c8c8" stroke-width="0.6"/>
<line x1="338.85" y1="374.6" x2="338.85" y2="376.20" stroke="#c8c8c8" stroke-width="0.6"/>
</g>
<text x="195.00" y="387.90" font-size="7.3" fill="#222" stroke="#222" stroke-width="0.3" font-weight="bold" textLength="24.00" lengthAdjust="spacingAndGlyphs">NKp30</text>
<text x="298.50" y="387.90" font-size="7.3" fill="#222" stroke="#222" stroke-width="0.3" font-weight="bold" textLength="23.80" lengthAdjust="spacingAndGlyphs">NKp30</text>
<g>
<clipPath id="c179405"><rect x="179.6" y="405.0" width="60.80000000000001" height="49.5"/></clipPath>
<polyline clip-path="url(#c179405)" points="180.0,451.1 181.0,450.2 182.0,449.9 183.0,449.2 184.0,447.9 185.0,447.0 186.0,445.7 186.6,445.1 187.2,444.1 187.8,443.2 188.4,442.2 189.0,441.0 189.5,439.9 190.0,439.3 190.5,438.1 191.0,437.0 191.5,436.2 192.0,434.9 192.5,433.8 193.0,432.0 193.5,431.0 194.0,429.6 194.5,428.8 195.0,427.7" fill="none" stroke="#7ddb3e" stroke-width="2.0" stroke-linejoin="round" stroke-linecap="round" opacity="0.9"/>
<polyline clip-path="url(#c179405)" points="195.0,427.7 195.5,428.7 196.0,429.6 196.5,431.1 196.9,432.0 197.2,433.4 197.6,435.1 198.0,435.7 198.5,437.4 199.0,438.3 199.5,440.0 200.0,441.2 200.5,441.8 201.0,443.2 201.5,443.8 202.0,445.3 202.7,446.0 203.3,446.7 204.0,448.2 205.0,449.3 206.0,450.1 207.0,450.7 208.0,451.5 209.0,452.5 210.0,453.0 211.5,453.2 213.0,453.5" fill="none" stroke="#b2ea88" stroke-width="2.0" stroke-linejoin="round" stroke-linecap="round" opacity="0.9"/>
<polyline clip-path="url(#c179405)" points="180.0,448.2 180.8,446.8 181.7,446.4 182.5,445.2 183.1,443.8 183.8,442.9 184.4,441.6 185.0,441.2 185.5,440.2 186.0,439.3 186.5,438.2 187.0,436.9 187.3,435.6 187.6,435.0 187.9,433.5 188.2,432.2 188.5,431.2 188.8,430.0 189.0,429.1 189.2,427.2 189.5,426.4 189.8,424.9 190.0,424.1 190.2,423.1 190.4,421.7 190.6,420.3 190.9,419.6 191.1,418.0 191.3,417.1 191.5,416.4 192.0,414.1 192.5,413.2 193.0,411.7 193.5,411.4 193.8,410.1 194.2,408.4 194.5,407.7 194.6,408.6 194.7,410.5 194.8,411.4 194.9,412.3 195.0,414.2 195.1,415.5 195.2,416.4 195.4,417.0 195.5,418.2 195.6,419.8 195.8,420.3 195.9,422.1 196.0,422.6 196.2,424.3 196.4,425.2 196.6,426.5 196.8,427.6 197.0,429.3 197.4,430.5 197.8,431.7 198.1,432.9 198.5,434.4 200.0,435.7 201.5,434.9 202.0,435.7 202.5,436.8 203.0,438.2 203.4,439.4 203.8,440.1 204.1,442.2 204.5,443.3 205.0,444.0 205.5,445.3 206.0,446.7 206.5,447.8 207.3,448.8 208.2,450.0 209.0,451.3 210.0,451.8 211.0,451.8 212.0,452.5 213.0,453.0 214.1,453.0 215.2,453.0 216.4,453.1 217.5,453.1 218.6,453.1 219.8,453.1 220.9,453.1 222.0,453.2 223.1,453.2 224.2,453.2 225.4,453.2 226.5,453.2 227.6,453.3 228.8,453.3 229.9,453.3 231.0,453.3 232.1,453.4 233.2,453.4 234.4,453.4 235.5,453.4 236.6,453.4 237.8,453.5 238.9,453.5 240.0,453.5" fill="none" stroke="#000" stroke-width="1.3" stroke-linejoin="round" stroke-linecap="round" opacity="1"/>
<rect x="179.6" y="405.0" width="60.80000000000001" height="49.5" fill="none" stroke="#666" stroke-width="1"/>
<line x1="179.6" y1="404.5" x2="179.6" y2="455.0" stroke="#111" stroke-width="1.6"/>
<line x1="179.1" y1="454.5" x2="240.9" y2="454.5" stroke="#111" stroke-width="1.6"/>
<text x="177.00" y="407.16" font-size="6.0" fill="#4a4a4a" stroke="#4a4a4a" stroke-width="0.15" text-anchor="end" textLength="5.40" lengthAdjust="spacingAndGlyphs">50</text>
<line x1="177.6" y1="405.00" x2="179.6" y2="405.00" stroke="#999" stroke-width="0.6"/>
<text x="177.00" y="419.54" font-size="6.0" fill="#4a4a4a" stroke="#4a4a4a" stroke-width="0.15" text-anchor="end" textLength="5.40" lengthAdjust="spacingAndGlyphs">38</text>
<line x1="177.6" y1="417.38" x2="179.6" y2="417.38" stroke="#999" stroke-width="0.6"/>
<text x="177.00" y="431.91" font-size="6.0" fill="#4a4a4a" stroke="#4a4a4a" stroke-width="0.15" text-anchor="end" textLength="5.40" lengthAdjust="spacingAndGlyphs">25</text>
<line x1="177.6" y1="429.75" x2="179.6" y2="429.75" stroke="#999" stroke-width="0.6"/>
<text x="177.00" y="444.29" font-size="6.0" fill="#4a4a4a" stroke="#4a4a4a" stroke-width="0.15" text-anchor="end" textLength="5.40" lengthAdjust="spacingAndGlyphs">13</text>
<line x1="177.6" y1="442.12" x2="179.6" y2="442.12" stroke="#999" stroke-width="0.6"/>
<text x="177.00" y="456.66" font-size="6.0" fill="#4a4a4a" stroke="#4a4a4a" stroke-width="0.15" text-anchor="end" textLength="2.70" lengthAdjust="spacingAndGlyphs">0</text>
<line x1="177.6" y1="454.50" x2="179.6" y2="454.50" stroke="#999" stroke-width="0.6"/>
<line x1="184.18" y1="454.5" x2="184.18" y2="456.10" stroke="#c8c8c8" stroke-width="0.6"/>
<line x1="186.85" y1="454.5" x2="186.85" y2="456.10" stroke="#c8c8c8" stroke-width="0.6"/>
<line x1="188.75" y1="454.5" x2="188.75" y2="456.10" stroke="#c8c8c8" stroke-width="0.6"/>
<line x1="190.22" y1="454.5" x2="190.22" y2="456.10" stroke="#c8c8c8" stroke-width="0.6"/>
<line x1="191.43" y1="454.5" x2="191.43" y2="456.10" stroke="#c8c8c8" stroke-width="0.6"/>
<line x1="192.45" y1="454.5" x2="192.45" y2="456.10" stroke="#c8c8c8" stroke-width="0.6"/>
<line x1="193.33" y1="454.5" x2="193.33" y2="456.10" stroke="#c8c8c8" stroke-width="0.6"/>
<line x1="194.10" y1="454.5" x2="194.10" y2="456.10" stroke="#c8c8c8" stroke-width="0.6"/>
<line x1="194.80" y1="454.5" x2="194.80" y2="456.70" stroke="#999" stroke-width="0.6"/>
<line x1="199.38" y1="454.5" x2="199.38" y2="456.10" stroke="#c8c8c8" stroke-width="0.6"/>
<line x1="202.05" y1="454.5" x2="202.05" y2="456.10" stroke="#c8c8c8" stroke-width="0.6"/>
<line x1="203.95" y1="454.5" x2="203.95" y2="456.10" stroke="#c8c8c8" stroke-width="0.6"/>
<line x1="205.42" y1="454.5" x2="205.42" y2="456.10" stroke="#c8c8c8" stroke-width="0.6"/>
<line x1="206.63" y1="454.5" x2="206.63" y2="456.10" stroke="#c8c8c8" stroke-width="0.6"/>
<line x1="207.65" y1="454.5" x2="207.65" y2="456.10" stroke="#c8c8c8" stroke-width="0.6"/>
<line x1="208.53" y1="454.5" x2="208.53" y2="456.10" stroke="#c8c8c8" stroke-width="0.6"/>
<line x1="209.30" y1="454.5" x2="209.30" y2="456.10" stroke="#c8c8c8" stroke-width="0.6"/>
<line x1="210.00" y1="454.5" x2="210.00" y2="456.70" stroke="#999" stroke-width="0.6"/>
<line x1="214.58" y1="454.5" x2="214.58" y2="456.10" stroke="#c8c8c8" stroke-width="0.6"/>
<line x1="217.25" y1="454.5" x2="217.25" y2="456.10" stroke="#c8c8c8" stroke-width="0.6"/>
<line x1="219.15" y1="454.5" x2="219.15" y2="456.10" stroke="#c8c8c8" stroke-width="0.6"/>
<line x1="220.62" y1="454.5" x2="220.62" y2="456.10" stroke="#c8c8c8" stroke-width="0.6"/>
<line x1="221.83" y1="454.5" x2="221.83" y2="456.10" stroke="#c8c8c8" stroke-width="0.6"/>
<line x1="222.85" y1="454.5" x2="222.85" y2="456.10" stroke="#c8c8c8" stroke-width="0.6"/>
<line x1="223.73" y1="454.5" x2="223.73" y2="456.10" stroke="#c8c8c8" stroke-width="0.6"/>
<line x1="224.50" y1="454.5" x2="224.50" y2="456.10" stroke="#c8c8c8" stroke-width="0.6"/>
<line x1="225.20" y1="454.5" x2="225.20" y2="456.70" stroke="#999" stroke-width="0.6"/>
<line x1="229.78" y1="454.5" x2="229.78" y2="456.10" stroke="#c8c8c8" stroke-width="0.6"/>
<line x1="232.45" y1="454.5" x2="232.45" y2="456.10" stroke="#c8c8c8" stroke-width="0.6"/>
<line x1="234.35" y1="454.5" x2="234.35" y2="456.10" stroke="#c8c8c8" stroke-width="0.6"/>
<line x1="235.82" y1="454.5" x2="235.82" y2="456.10" stroke="#c8c8c8" stroke-width="0.6"/>
<line x1="237.03" y1="454.5" x2="237.03" y2="456.10" stroke="#c8c8c8" stroke-width="0.6"/>
<line x1="238.05" y1="454.5" x2="238.05" y2="456.10" stroke="#c8c8c8" stroke-width="0.6"/>
<line x1="238.93" y1="454.5" x2="238.93" y2="456.10" stroke="#c8c8c8" stroke-width="0.6"/>
<line x1="239.70" y1="454.5" x2="239.70" y2="456.10" stroke="#c8c8c8" stroke-width="0.6"/>
</g>
<g>
<clipPath id="c280405"><rect x="280.5" y="405.8" width="61.89999999999998" height="49.599999999999966"/></clipPath>
<polyline clip-path="url(#c280405)" points="280.9,451.5 281.7,450.7 282.4,449.4 283.2,448.4 283.8,447.1 284.4,446.0 284.9,444.9 285.5,443.5 286.1,442.7 286.8,441.5 287.6,439.8 288.3,439.3 289.0,437.5 289.8,436.8 290.5,435.3 291.3,434.2 293.0,432.8" fill="none" stroke="#7ddb3e" stroke-width="2.0" stroke-linejoin="round" stroke-linecap="round" opacity="0.9"/>
<polyline clip-path="url(#c280405)" points="293.0,432.8 293.9,434.3 294.7,434.7 295.3,436.3 295.9,437.3 296.5,439.2 297.3,439.8 298.0,441.1 298.8,442.4 300.0,443.1 301.1,443.8 302.2,444.2 303.4,444.8 304.5,444.3 305.7,443.8 306.9,444.9 308.0,445.4 308.8,445.9 309.5,447.4 310.3,447.9 311.4,448.7 312.6,449.2 313.8,449.8 314.9,450.3 316.0,450.8 317.2,451.0 318.4,451.7 319.5,452.2 320.6,452.6 321.8,453.2 323.0,453.3 324.1,453.7 325.3,454.1 326.4,455.7 327.6,455.7" fill="none" stroke="#b2ea88" stroke-width="2.0" stroke-linejoin="round" stroke-linecap="round" opacity="0.9"/>
<polyline clip-path="url(#c280405)" points="280.9,445.7 281.3,445.0 281.8,443.7 282.2,442.8 282.6,441.4 282.9,440.2 283.3,439.2 283.6,437.7 284.0,436.9 284.3,435.8 284.6,433.8 284.9,433.5 285.2,431.5 285.5,431.0 285.8,429.5 286.1,428.3 286.3,426.9 286.6,426.7 286.8,424.8 287.1,424.0 287.3,422.4 287.6,422.0 287.8,420.1 288.0,419.2 288.3,418.2 288.5,417.2 288.8,416.2 289.0,414.8 289.3,413.6 289.5,412.3 289.9,410.9 290.2,410.4 290.6,409.0 290.9,407.3 291.3,406.9 291.9,407.4 292.4,408.9 292.7,410.0 293.0,411.1 293.2,412.2 293.5,413.5 293.8,414.3 294.1,415.8 294.3,416.9 294.6,418.2 294.8,419.6 295.1,420.4 295.3,421.8 295.4,422.3 295.5,424.0 295.6,424.8 295.7,426.6 295.8,427.1 295.9,428.9 296.0,429.7 296.1,430.6 296.2,432.0 296.2,433.4 296.3,434.5 296.4,435.0 296.5,436.5 296.6,438.1 296.8,438.9 296.9,440.3 297.1,441.2 297.2,441.9 297.3,443.2 297.5,444.6 297.6,445.4 297.9,447.0 298.3,448.3 298.6,448.9 299.0,450.2 299.3,451.7 300.3,452.1 301.2,452.8 302.2,453.7 303.4,454.0 304.5,454.2 305.6,455.7 306.8,455.7 307.9,455.7 309.0,455.7 310.1,455.7 311.2,455.7 312.3,455.7 313.4,455.7 314.5,455.7 315.6,455.7 316.7,455.7 317.8,455.7 318.9,455.7 320.0,455.7 321.1,455.7 322.2,455.7 323.3,455.7 324.4,455.7 325.5,455.7 326.6,455.7 327.7,455.7 328.8,455.7 329.9,455.7 331.0,455.7 332.1,455.7 333.2,455.7 334.3,455.7 335.4,455.7 336.5,455.7 337.6,455.7 338.7,455.7 339.8,455.7 340.9,455.7 342.0,455.7" fill="none" stroke="#000" stroke-width="1.3" stroke-linejoin="round" stroke-linecap="round" opacity="1"/>
<rect x="280.5" y="405.8" width="61.89999999999998" height="49.599999999999966" fill="none" stroke="#666" stroke-width="1"/>
<line x1="280.5" y1="405.3" x2="280.5" y2="455.9" stroke="#111" stroke-width="1.6"/>
<line x1="280.0" y1="455.4" x2="342.9" y2="455.4" stroke="#111" stroke-width="1.6"/>
<text x="278.00" y="407.96" font-size="6.0" fill="#4a4a4a" stroke="#4a4a4a" stroke-width="0.15" text-anchor="end" textLength="5.40" lengthAdjust="spacingAndGlyphs">60</text>
<line x1="278.5" y1="405.80" x2="280.5" y2="405.80" stroke="#999" stroke-width="0.6"/>
<text x="278.00" y="420.36" font-size="6.0" fill="#4a4a4a" stroke="#4a4a4a" stroke-width="0.15" text-anchor="end" textLength="5.40" lengthAdjust="spacingAndGlyphs">45</text>
<line x1="278.5" y1="418.20" x2="280.5" y2="418.20" stroke="#999" stroke-width="0.6"/>
<text x="278.00" y="432.76" font-size="6.0" fill="#4a4a4a" stroke="#4a4a4a" stroke-width="0.15" text-anchor="end" textLength="5.40" lengthAdjust="spacingAndGlyphs">30</text>
<line x1="278.5" y1="430.60" x2="280.5" y2="430.60" stroke="#999" stroke-width="0.6"/>
<text x="278.00" y="445.16" font-size="6.0" fill="#4a4a4a" stroke="#4a4a4a" stroke-width="0.15" text-anchor="end" textLength="5.40" lengthAdjust="spacingAndGlyphs">15</text>
<line x1="278.5" y1="443.00" x2="280.5" y2="443.00" stroke="#999" stroke-width="0.6"/>
<text x="278.00" y="457.56" font-size="6.0" fill="#4a4a4a" stroke="#4a4a4a" stroke-width="0.15" text-anchor="end" textLength="2.70" lengthAdjust="spacingAndGlyphs">0</text>
<line x1="278.5" y1="455.40" x2="280.5" y2="455.40" stroke="#999" stroke-width="0.6"/>
<line x1="285.16" y1="455.4" x2="285.16" y2="457.00" stroke="#c8c8c8" stroke-width="0.6"/>
<line x1="287.88" y1="455.4" x2="287.88" y2="457.00" stroke="#c8c8c8" stroke-width="0.6"/>
<line x1="289.82" y1="455.4" x2="289.82" y2="457.00" stroke="#c8c8c8" stroke-width="0.6"/>
<line x1="291.32" y1="455.4" x2="291.32" y2="457.00" stroke="#c8c8c8" stroke-width="0.6"/>
<line x1="292.54" y1="455.4" x2="292.54" y2="457.00" stroke="#c8c8c8" stroke-width="0.6"/>
<line x1="293.58" y1="455.4" x2="293.58" y2="457.00" stroke="#c8c8c8" stroke-width="0.6"/>
<line x1="294.48" y1="455.4" x2="294.48" y2="457.00" stroke="#c8c8c8" stroke-width="0.6"/>
<line x1="295.27" y1="455.4" x2="295.27" y2="457.00" stroke="#c8c8c8" stroke-width="0.6"/>
<line x1="295.98" y1="455.4" x2="295.98" y2="457.60" stroke="#999" stroke-width="0.6"/>
<line x1="300.63" y1="455.4" x2="300.63" y2="457.00" stroke="#c8c8c8" stroke-width="0.6"/>
<line x1="303.36" y1="455.4" x2="303.36" y2="457.00" stroke="#c8c8c8" stroke-width="0.6"/>
<line x1="305.29" y1="455.4" x2="305.29" y2="457.00" stroke="#c8c8c8" stroke-width="0.6"/>
<line x1="306.79" y1="455.4" x2="306.79" y2="457.00" stroke="#c8c8c8" stroke-width="0.6"/>
<line x1="308.02" y1="455.4" x2="308.02" y2="457.00" stroke="#c8c8c8" stroke-width="0.6"/>
<line x1="309.05" y1="455.4" x2="309.05" y2="457.00" stroke="#c8c8c8" stroke-width="0.6"/>
<line x1="309.95" y1="455.4" x2="309.95" y2="457.00" stroke="#c8c8c8" stroke-width="0.6"/>
<line x1="310.74" y1="455.4" x2="310.74" y2="457.00" stroke="#c8c8c8" stroke-width="0.6"/>
<line x1="311.45" y1="455.4" x2="311.45" y2="457.60" stroke="#999" stroke-width="0.6"/>
<line x1="316.11" y1="455.4" x2="316.11" y2="457.00" stroke="#c8c8c8" stroke-width="0.6"/>
<line x1="318.83" y1="455.4" x2="318.83" y2="457.00" stroke="#c8c8c8" stroke-width="0.6"/>
<line x1="320.77" y1="455.4" x2="320.77" y2="457.00" stroke="#c8c8c8" stroke-width="0.6"/>
<line x1="322.27" y1="455.4" x2="322.27" y2="457.00" stroke="#c8c8c8" stroke-width="0.6"/>
<line x1="323.49" y1="455.4" x2="323.49" y2="457.00" stroke="#c8c8c8" stroke-width="0.6"/>
<line x1="324.53" y1="455.4" x2="324.53" y2="457.00" stroke="#c8c8c8" stroke-width="0.6"/>
<line x1="325.43" y1="455.4" x2="325.43" y2="457.00" stroke="#c8c8c8" stroke-width="0.6"/>
<line x1="326.22" y1="455.4" x2="326.22" y2="457.00" stroke="#c8c8c8" stroke-width="0.6"/>
<line x1="326.92" y1="455.4" x2="326.92" y2="457.60" stroke="#999" stroke-width="0.6"/>
<line x1="331.58" y1="455.4" x2="331.58" y2="457.00" stroke="#c8c8c8" stroke-width="0.6"/>
<line x1="334.31" y1="455.4" x2="334.31" y2="457.00" stroke="#c8c8c8" stroke-width="0.6"/>
<line x1="336.24" y1="455.4" x2="336.24" y2="457.00" stroke="#c8c8c8" stroke-width="0.6"/>
<line x1="337.74" y1="455.4" x2="337.74" y2="457.00" stroke="#c8c8c8" stroke-width="0.6"/>
<line x1="338.97" y1="455.4" x2="338.97" y2="457.00" stroke="#c8c8c8" stroke-width="0.6"/>
<line x1="340.00" y1="455.4" x2="340.00" y2="457.00" stroke="#c8c8c8" stroke-width="0.6"/>
<line x1="340.90" y1="455.4" x2="340.90" y2="457.00" stroke="#c8c8c8" stroke-width="0.6"/>
<line x1="341.69" y1="455.4" x2="341.69" y2="457.00" stroke="#c8c8c8" stroke-width="0.6"/>
</g>
<text x="198.50" y="470.20" font-size="7.6" fill="#222" stroke="#222" stroke-width="0.3" font-weight="bold" textLength="24.00" lengthAdjust="spacingAndGlyphs">NKp44</text>
<text x="299.60" y="470.20" font-size="7.6" fill="#222" stroke="#222" stroke-width="0.3" font-weight="bold" textLength="24.40" lengthAdjust="spacingAndGlyphs">NKp44</text>
<g>
<clipPath id="c178487"><rect x="178.1" y="487.0" width="69.1" height="48.39999999999998"/></clipPath>
<polyline clip-path="url(#c178487)" points="192.0,534.4 193.2,534.2 194.4,534.0 195.7,533.7 196.9,533.5 198.1,533.1 199.4,533.2 200.6,532.6 201.8,533.1 203.1,532.9 204.3,532.6 205.6,532.1 206.8,532.3 208.0,532.1 209.3,531.2 210.5,530.9 211.3,529.9 212.1,529.0 212.9,528.8 213.4,527.8 213.9,526.7 214.4,525.3 214.9,524.7 215.4,523.8 215.9,522.5 216.4,521.3 216.8,519.8 217.3,519.0 217.8,517.5 218.2,516.6 218.6,514.9 218.9,513.5 219.3,512.5 219.7,511.0 220.1,509.7 220.6,509.2 221.1,507.5 221.5,506.4" fill="none" stroke="#7ddb3e" stroke-width="2.0" stroke-linejoin="round" stroke-linecap="round" opacity="0.9"/>
<polyline clip-path="url(#c178487)" points="221.5,506.4 222.8,507.3 223.2,509.0 223.5,510.3 223.9,511.4 224.2,512.7 224.6,514.0 225.0,515.2 225.4,516.4 225.7,517.6 226.1,518.7 226.5,520.1 226.9,521.1 227.3,522.3 227.7,523.0 228.1,523.9 228.5,524.9 228.9,525.9 229.5,527.0 230.1,527.9 230.8,528.8 231.4,530.3 232.0,531.0 233.0,532.0 234.1,533.0 235.1,534.1 237.0,535.7" fill="none" stroke="#b2ea88" stroke-width="2.0" stroke-linejoin="round" stroke-linecap="round" opacity="0.9"/>
<polyline clip-path="url(#c178487)" points="178.5,529.5 179.3,529.0 180.1,527.7 180.9,527.7 181.5,526.6 182.2,525.5 182.8,524.2 183.4,523.8 184.0,522.7 184.6,520.9 185.2,519.8 185.8,518.3 186.2,517.1 186.6,516.6 186.9,515.3 187.3,514.0 187.7,512.2 188.0,511.4 188.3,510.3 188.6,509.0 188.9,507.8 189.2,506.2 189.5,505.6 189.8,504.0 190.1,503.1 190.4,501.3 190.8,499.9 191.1,499.0 191.4,497.4 191.8,496.1 192.3,495.7 192.8,493.9 193.2,492.8 193.6,491.2 194.1,490.6 194.5,489.5 194.6,490.5 194.7,491.8 194.8,493.2 194.9,494.3 195.0,495.5 195.1,496.7 195.3,497.7 195.5,499.2 195.7,500.4 195.9,501.9 196.1,502.6 196.3,503.8 196.6,504.9 196.9,506.1 197.2,507.5 197.6,508.6 197.9,509.7 198.2,511.7 198.6,512.6 199.1,513.7 199.6,514.9 200.0,516.1 200.6,517.0 201.2,518.7 201.8,517.3 202.5,516.5 203.1,518.0 203.7,518.8 204.3,520.0 204.9,521.0 205.4,522.7 205.9,523.8 206.3,525.1 206.8,525.9 207.4,527.0 208.0,528.3 208.6,529.1 209.2,530.1 210.1,531.3 211.1,531.6 212.0,533.1 212.9,533.5 214.1,533.8 215.4,534.1 216.6,535.7 217.8,535.7 218.9,535.7 220.1,535.7 221.2,535.7 222.3,535.7 223.4,535.7 224.6,535.7 225.7,535.7 226.8,535.7 228.0,535.7 229.1,535.7 230.2,535.7 231.3,535.7 232.5,535.7 233.6,535.7 234.7,535.7 235.8,535.7 237.0,535.7 238.1,535.7 239.2,535.7 240.4,535.7 241.5,535.7 242.6,535.7 243.7,535.7 244.9,535.7 246.0,535.7" fill="none" stroke="#000" stroke-width="1.3" stroke-linejoin="round" stroke-linecap="round" opacity="1"/>
<rect x="178.1" y="487.0" width="69.1" height="48.39999999999998" fill="none" stroke="#666" stroke-width="1"/>
<line x1="178.1" y1="486.5" x2="178.1" y2="535.9" stroke="#111" stroke-width="1.6"/>
<line x1="177.6" y1="535.4" x2="247.7" y2="535.4" stroke="#111" stroke-width="1.6"/>
<text x="175.00" y="489.16" font-size="6.0" fill="#4a4a4a" stroke="#4a4a4a" stroke-width="0.15" text-anchor="end" textLength="5.40" lengthAdjust="spacingAndGlyphs">50</text>
<line x1="176.1" y1="487.00" x2="178.1" y2="487.00" stroke="#999" stroke-width="0.6"/>
<text x="175.00" y="501.26" font-size="6.0" fill="#4a4a4a" stroke="#4a4a4a" stroke-width="0.15" text-anchor="end" textLength="5.40" lengthAdjust="spacingAndGlyphs">38</text>
<line x1="176.1" y1="499.10" x2="178.1" y2="499.10" stroke="#999" stroke-width="0.6"/>
<text x="175.00" y="513.36" font-size="6.0" fill="#4a4a4a" stroke="#4a4a4a" stroke-width="0.15" text-anchor="end" textLength="5.40" lengthAdjust="spacingAndGlyphs">25</text>
<line x1="176.1" y1="511.20" x2="178.1" y2="511.20" stroke="#999" stroke-width="0.6"/>
<text x="175.00" y="525.46" font-size="6.0" fill="#4a4a4a" stroke="#4a4a4a" stroke-width="0.15" text-anchor="end" textLength="5.40" lengthAdjust="spacingAndGlyphs">13</text>
<line x1="176.1" y1="523.30" x2="178.1" y2="523.30" stroke="#999" stroke-width="0.6"/>
<text x="175.00" y="537.56" font-size="6.0" fill="#4a4a4a" stroke="#4a4a4a" stroke-width="0.15" text-anchor="end" textLength="2.70" lengthAdjust="spacingAndGlyphs">0</text>
<line x1="176.1" y1="535.40" x2="178.1" y2="535.40" stroke="#999" stroke-width="0.6"/>
<line x1="183.30" y1="535.4" x2="183.30" y2="537.00" stroke="#c8c8c8" stroke-width="0.6"/>
<line x1="186.34" y1="535.4" x2="186.34" y2="537.00" stroke="#c8c8c8" stroke-width="0.6"/>
<line x1="188.50" y1="535.4" x2="188.50" y2="537.00" stroke="#c8c8c8" stroke-width="0.6"/>
<line x1="190.17" y1="535.4" x2="190.17" y2="537.00" stroke="#c8c8c8" stroke-width="0.6"/>
<line x1="191.54" y1="535.4" x2="191.54" y2="537.00" stroke="#c8c8c8" stroke-width="0.6"/>
<line x1="192.70" y1="535.4" x2="192.70" y2="537.00" stroke="#c8c8c8" stroke-width="0.6"/>
<line x1="193.70" y1="535.4" x2="193.70" y2="537.00" stroke="#c8c8c8" stroke-width="0.6"/>
<line x1="194.58" y1="535.4" x2="194.58" y2="537.00" stroke="#c8c8c8" stroke-width="0.6"/>
<line x1="195.38" y1="535.4" x2="195.38" y2="537.60" stroke="#999" stroke-width="0.6"/>
<line x1="200.58" y1="535.4" x2="200.58" y2="537.00" stroke="#c8c8c8" stroke-width="0.6"/>
<line x1="203.62" y1="535.4" x2="203.62" y2="537.00" stroke="#c8c8c8" stroke-width="0.6"/>
<line x1="205.78" y1="535.4" x2="205.78" y2="537.00" stroke="#c8c8c8" stroke-width="0.6"/>
<line x1="207.45" y1="535.4" x2="207.45" y2="537.00" stroke="#c8c8c8" stroke-width="0.6"/>
<line x1="208.82" y1="535.4" x2="208.82" y2="537.00" stroke="#c8c8c8" stroke-width="0.6"/>
<line x1="209.97" y1="535.4" x2="209.97" y2="537.00" stroke="#c8c8c8" stroke-width="0.6"/>
<line x1="210.98" y1="535.4" x2="210.98" y2="537.00" stroke="#c8c8c8" stroke-width="0.6"/>
<line x1="211.86" y1="535.4" x2="211.86" y2="537.00" stroke="#c8c8c8" stroke-width="0.6"/>
<line x1="212.65" y1="535.4" x2="212.65" y2="537.60" stroke="#999" stroke-width="0.6"/>
<line x1="217.85" y1="535.4" x2="217.85" y2="537.00" stroke="#c8c8c8" stroke-width="0.6"/>
<line x1="220.89" y1="535.4" x2="220.89" y2="537.00" stroke="#c8c8c8" stroke-width="0.6"/>
<line x1="223.05" y1="535.4" x2="223.05" y2="537.00" stroke="#c8c8c8" stroke-width="0.6"/>
<line x1="224.72" y1="535.4" x2="224.72" y2="537.00" stroke="#c8c8c8" stroke-width="0.6"/>
<line x1="226.09" y1="535.4" x2="226.09" y2="537.00" stroke="#c8c8c8" stroke-width="0.6"/>
<line x1="227.25" y1="535.4" x2="227.25" y2="537.00" stroke="#c8c8c8" stroke-width="0.6"/>
<line x1="228.25" y1="535.4" x2="228.25" y2="537.00" stroke="#c8c8c8" stroke-width="0.6"/>
<line x1="229.13" y1="535.4" x2="229.13" y2="537.00" stroke="#c8c8c8" stroke-width="0.6"/>
<line x1="229.92" y1="535.4" x2="229.92" y2="537.60" stroke="#999" stroke-width="0.6"/>
<line x1="235.13" y1="535.4" x2="235.13" y2="537.00" stroke="#c8c8c8" stroke-width="0.6"/>
<line x1="238.17" y1="535.4" x2="238.17" y2="537.00" stroke="#c8c8c8" stroke-width="0.6"/>
<line x1="240.33" y1="535.4" x2="240.33" y2="537.00" stroke="#c8c8c8" stroke-width="0.6"/>
<line x1="242.00" y1="535.4" x2="242.00" y2="537.00" stroke="#c8c8c8" stroke-width="0.6"/>
<line x1="243.37" y1="535.4" x2="243.37" y2="537.00" stroke="#c8c8c8" stroke-width="0.6"/>
<line x1="244.52" y1="535.4" x2="244.52" y2="537.00" stroke="#c8c8c8" stroke-width="0.6"/>
<line x1="245.53" y1="535.4" x2="245.53" y2="537.00" stroke="#c8c8c8" stroke-width="0.6"/>
<line x1="246.41" y1="535.4" x2="246.41" y2="537.00" stroke="#c8c8c8" stroke-width="0.6"/>
</g>
<g>
<clipPath id="c277487"><rect x="277.4" y="487.0" width="69.5" height="49.39999999999998"/></clipPath>
<polyline clip-path="url(#c277487)" points="302.0,536.7 303.1,536.7 304.3,536.7 305.4,536.7 306.6,535.4 307.7,535.3 308.8,535.1 310.0,535.0 311.1,534.8 312.3,534.7 313.4,534.5 314.5,534.0 315.5,533.9 316.6,533.5 317.7,533.4 318.8,532.3 319.8,531.8 320.8,531.0 321.9,530.4 322.6,530.2 323.3,529.0 324.1,528.2 324.8,527.6 325.5,526.3 326.0,525.5 326.4,524.0 326.9,522.8 327.4,521.8 327.8,520.3 328.3,519.2 328.6,518.4 328.9,516.7 329.2,516.1 329.6,515.1 329.9,514.0 330.2,512.4 330.5,511.7 330.7,510.4 331.0,509.5 331.2,507.8 331.4,506.9 331.7,506.1 331.9,504.9 332.1,503.8 332.4,502.5 332.6,501.4 333.1,500.0 333.6,499.3 334.0,497.8 334.5,496.3 335.5,495.8" fill="none" stroke="#7ddb3e" stroke-width="2.0" stroke-linejoin="round" stroke-linecap="round" opacity="0.9"/>
<polyline clip-path="url(#c277487)" points="335.5,495.8 335.9,496.9 336.2,498.0 336.5,499.2 336.9,499.8 337.2,501.3 337.6,502.3 337.9,503.8 338.3,504.8 338.6,505.8 339.0,507.1 339.2,508.3 339.5,509.7 339.7,510.3 339.9,511.8 340.2,513.0 340.4,513.5 340.6,514.9 340.9,515.8 341.1,517.3 341.4,518.3 341.7,519.3 341.9,520.5 342.2,521.5 342.5,522.7 342.8,523.5 343.0,524.9 343.3,525.5 343.6,526.9 343.9,528.1 344.2,529.0 344.5,529.8 344.8,531.4 345.1,532.2 345.4,533.6 345.9,534.8 346.5,536.7" fill="none" stroke="#b2ea88" stroke-width="2.0" stroke-linejoin="round" stroke-linecap="round" opacity="0.9"/>
<polyline clip-path="url(#c277487)" points="277.8,528.3 278.5,527.5 279.3,526.2 280.0,525.4 280.4,523.6 280.8,522.5 281.3,521.2 281.7,520.0 282.1,519.7 282.4,518.1 282.7,517.1 283.0,516.3 283.3,514.6 283.6,514.0 283.9,512.5 284.2,511.4 284.5,510.3 284.8,508.7 285.1,507.7 285.5,506.9 285.8,504.9 286.1,504.4 286.4,503.3 286.7,502.1 287.0,500.3 287.3,499.7 287.6,498.2 287.9,497.2 288.2,495.2 288.5,494.3 288.8,493.4 289.1,491.9 289.3,490.6 289.6,489.1 289.9,487.9 290.4,488.9 290.9,490.7 291.4,491.5 291.7,492.4 292.0,493.7 292.2,495.0 292.5,496.2 292.8,497.4 293.1,498.0 293.5,499.3 293.9,500.2 294.2,501.7 294.3,502.6 294.5,503.6 294.6,504.8 294.7,506.1 294.8,507.8 295.0,508.2 295.1,509.8 295.2,511.1 295.3,511.7 295.5,513.2 295.6,514.1 295.7,515.7 295.9,516.7 296.0,517.8 296.1,519.2 296.2,520.3 296.4,521.6 296.5,522.4 296.6,524.0 296.7,524.6 296.9,526.1 297.0,527.3 297.3,528.2 297.6,528.9 297.9,530.7 298.2,531.4 298.5,532.9 299.6,533.5 300.6,534.5 302.0,534.9 303.4,535.2 304.5,535.2 305.6,535.2 306.8,535.3 307.9,535.3 309.0,535.3 310.1,535.3 311.2,535.3 312.4,535.4 313.5,535.4 314.6,536.7 315.7,536.7 316.9,536.7 318.0,536.7 319.1,536.7 320.2,536.7 321.3,536.7 322.5,536.7 323.6,536.7 324.7,536.7 325.8,536.7 326.9,536.7 328.1,536.7 329.2,536.7 330.3,536.7 331.4,536.7 332.5,536.7 333.7,536.7 334.8,536.7 335.9,536.7 337.0,536.7 338.2,536.7 339.3,536.7 340.4,536.7 341.5,536.7 342.6,536.7 343.8,536.7 344.9,536.7 346.0,536.7" fill="none" stroke="#000" stroke-width="1.3" stroke-linejoin="round" stroke-linecap="round" opacity="1"/>
<rect x="277.4" y="487.0" width="69.5" height="49.39999999999998" fill="none" stroke="#666" stroke-width="1"/>
<line x1="277.4" y1="486.5" x2="277.4" y2="536.9" stroke="#111" stroke-width="1.6"/>
<line x1="276.9" y1="536.4" x2="347.4" y2="536.4" stroke="#111" stroke-width="1.6"/>
<text x="274.80" y="489.16" font-size="6.0" fill="#4a4a4a" stroke="#4a4a4a" stroke-width="0.15" text-anchor="end" textLength="5.40" lengthAdjust="spacingAndGlyphs">60</text>
<line x1="275.4" y1="487.00" x2="277.4" y2="487.00" stroke="#999" stroke-width="0.6"/>
<text x="274.80" y="501.51" font-size="6.0" fill="#4a4a4a" stroke="#4a4a4a" stroke-width="0.15" text-anchor="end" textLength="5.40" lengthAdjust="spacingAndGlyphs">45</text>
<line x1="275.4" y1="499.35" x2="277.4" y2="499.35" stroke="#999" stroke-width="0.6"/>
<text x="274.80" y="513.86" font-size="6.0" fill="#4a4a4a" stroke="#4a4a4a" stroke-width="0.15" text-anchor="end" textLength="5.40" lengthAdjust="spacingAndGlyphs">30</text>
<line x1="275.4" y1="511.70" x2="277.4" y2="511.70" stroke="#999" stroke-width="0.6"/>
<text x="274.80" y="526.21" font-size="6.0" fill="#4a4a4a" stroke="#4a4a4a" stroke-width="0.15" text-anchor="end" textLength="5.40" lengthAdjust="spacingAndGlyphs">15</text>
<line x1="275.4" y1="524.05" x2="277.4" y2="524.05" stroke="#999" stroke-width="0.6"/>
<text x="274.80" y="538.56" font-size="6.0" fill="#4a4a4a" stroke="#4a4a4a" stroke-width="0.15" text-anchor="end" textLength="2.70" lengthAdjust="spacingAndGlyphs">0</text>
<line x1="275.4" y1="536.40" x2="277.4" y2="536.40" stroke="#999" stroke-width="0.6"/>
<line x1="282.63" y1="536.4" x2="282.63" y2="538.00" stroke="#c8c8c8" stroke-width="0.6"/>
<line x1="285.69" y1="536.4" x2="285.69" y2="538.00" stroke="#c8c8c8" stroke-width="0.6"/>
<line x1="287.86" y1="536.4" x2="287.86" y2="538.00" stroke="#c8c8c8" stroke-width="0.6"/>
<line x1="289.54" y1="536.4" x2="289.54" y2="538.00" stroke="#c8c8c8" stroke-width="0.6"/>
<line x1="290.92" y1="536.4" x2="290.92" y2="538.00" stroke="#c8c8c8" stroke-width="0.6"/>
<line x1="292.08" y1="536.4" x2="292.08" y2="538.00" stroke="#c8c8c8" stroke-width="0.6"/>
<line x1="293.09" y1="536.4" x2="293.09" y2="538.00" stroke="#c8c8c8" stroke-width="0.6"/>
<line x1="293.98" y1="536.4" x2="293.98" y2="538.00" stroke="#c8c8c8" stroke-width="0.6"/>
<line x1="294.77" y1="536.4" x2="294.77" y2="538.60" stroke="#999" stroke-width="0.6"/>
<line x1="300.01" y1="536.4" x2="300.01" y2="538.00" stroke="#c8c8c8" stroke-width="0.6"/>
<line x1="303.06" y1="536.4" x2="303.06" y2="538.00" stroke="#c8c8c8" stroke-width="0.6"/>
<line x1="305.24" y1="536.4" x2="305.24" y2="538.00" stroke="#c8c8c8" stroke-width="0.6"/>
<line x1="306.92" y1="536.4" x2="306.92" y2="538.00" stroke="#c8c8c8" stroke-width="0.6"/>
<line x1="308.30" y1="536.4" x2="308.30" y2="538.00" stroke="#c8c8c8" stroke-width="0.6"/>
<line x1="309.46" y1="536.4" x2="309.46" y2="538.00" stroke="#c8c8c8" stroke-width="0.6"/>
<line x1="310.47" y1="536.4" x2="310.47" y2="538.00" stroke="#c8c8c8" stroke-width="0.6"/>
<line x1="311.35" y1="536.4" x2="311.35" y2="538.00" stroke="#c8c8c8" stroke-width="0.6"/>
<line x1="312.15" y1="536.4" x2="312.15" y2="538.60" stroke="#999" stroke-width="0.6"/>
<line x1="317.38" y1="536.4" x2="317.38" y2="538.00" stroke="#c8c8c8" stroke-width="0.6"/>
<line x1="320.44" y1="536.4" x2="320.44" y2="538.00" stroke="#c8c8c8" stroke-width="0.6"/>
<line x1="322.61" y1="536.4" x2="322.61" y2="538.00" stroke="#c8c8c8" stroke-width="0.6"/>
<line x1="324.29" y1="536.4" x2="324.29" y2="538.00" stroke="#c8c8c8" stroke-width="0.6"/>
<line x1="325.67" y1="536.4" x2="325.67" y2="538.00" stroke="#c8c8c8" stroke-width="0.6"/>
<line x1="326.83" y1="536.4" x2="326.83" y2="538.00" stroke="#c8c8c8" stroke-width="0.6"/>
<line x1="327.84" y1="536.4" x2="327.84" y2="538.00" stroke="#c8c8c8" stroke-width="0.6"/>
<line x1="328.73" y1="536.4" x2="328.73" y2="538.00" stroke="#c8c8c8" stroke-width="0.6"/>
<line x1="329.52" y1="536.4" x2="329.52" y2="538.60" stroke="#999" stroke-width="0.6"/>
<line x1="334.76" y1="536.4" x2="334.76" y2="538.00" stroke="#c8c8c8" stroke-width="0.6"/>
<line x1="337.81" y1="536.4" x2="337.81" y2="538.00" stroke="#c8c8c8" stroke-width="0.6"/>
<line x1="339.99" y1="536.4" x2="339.99" y2="538.00" stroke="#c8c8c8" stroke-width="0.6"/>
<line x1="341.67" y1="536.4" x2="341.67" y2="538.00" stroke="#c8c8c8" stroke-width="0.6"/>
<line x1="343.05" y1="536.4" x2="343.05" y2="538.00" stroke="#c8c8c8" stroke-width="0.6"/>
<line x1="344.21" y1="536.4" x2="344.21" y2="538.00" stroke="#c8c8c8" stroke-width="0.6"/>
<line x1="345.22" y1="536.4" x2="345.22" y2="538.00" stroke="#c8c8c8" stroke-width="0.6"/>
<line x1="346.10" y1="536.4" x2="346.10" y2="538.00" stroke="#c8c8c8" stroke-width="0.6"/>
</g>
<text x="-1.10" y="567.70" font-size="14.5" fill="#111" stroke="#111" stroke-width="0.6" textLength="9.90" lengthAdjust="spacingAndGlyphs">B</text>
<line x1="28.5" y1="598.5" x2="28.5" y2="708.35" stroke="#333" stroke-width="1"/>
<line x1="26.5" y1="706.85" x2="28.5" y2="706.85" stroke="#333" stroke-width="0.8"/>
<text x="24.00" y="709.10" font-size="6.3" fill="#3a3a3a" stroke="#3a3a3a" stroke-width="0.12" text-anchor="end" textLength="8.60" lengthAdjust="spacingAndGlyphs">-10</text>
<line x1="26.5" y1="696.00" x2="28.5" y2="696.00" stroke="#333" stroke-width="0.8"/>
<text x="24.00" y="698.25" font-size="6.3" fill="#3a3a3a" stroke="#3a3a3a" stroke-width="0.12" text-anchor="end" textLength="3.20" lengthAdjust="spacingAndGlyphs">0</text>
<line x1="26.5" y1="685.15" x2="28.5" y2="685.15" stroke="#333" stroke-width="0.8"/>
<text x="24.00" y="687.40" font-size="6.3" fill="#3a3a3a" stroke="#3a3a3a" stroke-width="0.12" text-anchor="end" textLength="6.20" lengthAdjust="spacingAndGlyphs">10</text>
<line x1="26.5" y1="674.30" x2="28.5" y2="674.30" stroke="#333" stroke-width="0.8"/>
<text x="24.00" y="676.55" font-size="6.3" fill="#3a3a3a" stroke="#3a3a3a" stroke-width="0.12" text-anchor="end" textLength="6.20" lengthAdjust="spacingAndGlyphs">20</text>
<line x1="26.5" y1="663.45" x2="28.5" y2="663.45" stroke="#333" stroke-width="0.8"/>
<text x="24.00" y="665.70" font-size="6.3" fill="#3a3a3a" stroke="#3a3a3a" stroke-width="0.12" text-anchor="end" textLength="6.20" lengthAdjust="spacingAndGlyphs">30</text>
<line x1="26.5" y1="652.60" x2="28.5" y2="652.60" stroke="#333" stroke-width="0.8"/>
<text x="24.00" y="654.85" font-size="6.3" fill="#3a3a3a" stroke="#3a3a3a" stroke-width="0.12" text-anchor="end" textLength="6.20" lengthAdjust="spacingAndGlyphs">40</text>
<line x1="26.5" y1="641.75" x2="28.5" y2="641.75" stroke="#333" stroke-width="0.8"/>
<text x="24.00" y="644.00" font-size="6.3" fill="#3a3a3a" stroke="#3a3a3a" stroke-width="0.12" text-anchor="end" textLength="6.20" lengthAdjust="spacingAndGlyphs">50</text>
<line x1="26.5" y1="630.90" x2="28.5" y2="630.90" stroke="#333" stroke-width="0.8"/>
<text x="24.00" y="633.15" font-size="6.3" fill="#3a3a3a" stroke="#3a3a3a" stroke-width="0.12" text-anchor="end" textLength="6.20" lengthAdjust="spacingAndGlyphs">60</text>
<line x1="26.5" y1="620.05" x2="28.5" y2="620.05" stroke="#333" stroke-width="0.8"/>
<text x="24.00" y="622.30" font-size="6.3" fill="#3a3a3a" stroke="#3a3a3a" stroke-width="0.12" text-anchor="end" textLength="6.20" lengthAdjust="spacingAndGlyphs">70</text>
<line x1="26.5" y1="609.20" x2="28.5" y2="609.20" stroke="#333" stroke-width="0.8"/>
<text x="24.00" y="611.45" font-size="6.3" fill="#3a3a3a" stroke="#3a3a3a" stroke-width="0.12" text-anchor="end" textLength="6.20" lengthAdjust="spacingAndGlyphs">80</text>
<line x1="26.5" y1="598.35" x2="28.5" y2="598.35" stroke="#333" stroke-width="0.8"/>
<text x="24.00" y="600.60" font-size="6.3" fill="#3a3a3a" stroke="#3a3a3a" stroke-width="0.12" text-anchor="end" textLength="6.20" lengthAdjust="spacingAndGlyphs">90</text>
<line x1="28.0" y1="696.0" x2="161.5" y2="696.0" stroke="#404040" stroke-width="1.6"/>
<line x1="73.20" y1="696.0" x2="73.20" y2="698.0" stroke="#333" stroke-width="0.8"/>
<line x1="117.60" y1="696.0" x2="117.60" y2="698.0" stroke="#333" stroke-width="0.8"/>
<line x1="161.40" y1="696.0" x2="161.40" y2="698.0" stroke="#333" stroke-width="0.8"/>
<text x="43.80" y="707.20" font-size="5.8" fill="#333" stroke="#333" stroke-width="0.1" textLength="12.40" lengthAdjust="spacingAndGlyphs">0.5:1</text>
<text x="91.50" y="707.20" font-size="5.8" fill="#333" stroke="#333" stroke-width="0.1" textLength="7.70" lengthAdjust="spacingAndGlyphs">1:1</text>
<text x="135.00" y="707.20" font-size="5.8" fill="#333" stroke="#333" stroke-width="0.1" textLength="8.00" lengthAdjust="spacingAndGlyphs">5:1</text>
<text x="81.50" y="720.60" font-size="6.6" fill="#222" stroke="#222" stroke-width="0.2" font-weight="bold" textLength="22.00" lengthAdjust="spacingAndGlyphs">E:T ratio</text>
<text x="8.60" y="650.50" font-size="11.2" fill="#111" stroke="#111" stroke-width="0.2" text-anchor="middle" textLength="71.50" lengthAdjust="spacingAndGlyphs" transform="rotate(-90 8.60 650.50)">% specific lysis</text>
<polyline points="51.0,693.8 95.4,692.7 139.2,692.2" fill="none" stroke="#c8704c" stroke-width="1.3"/>
<rect x="47.8" y="690.6" width="6.4" height="6.4" fill="#ff5a1e"/>
<rect x="92.2" y="689.5" width="6.4" height="6.4" fill="#ff5a1e"/>
<line x1="139.2" y1="687.3" x2="139.2" y2="696.0" stroke="#333" stroke-width="0.8"/>
<line x1="137.7" y1="687.3" x2="140.7" y2="687.3" stroke="#333" stroke-width="0.8"/>
<rect x="136.0" y="689.0" width="6.4" height="6.4" fill="#ff5a1e"/>
<polyline points="51.0,690.6 95.4,685.1 139.2,655.9" fill="none" stroke="#2a2a72" stroke-width="1.1"/>
<polygon points="51.0,687.0 54.3,690.6 51.0,694.2 47.7,690.6" fill="#0c0c98"/>
<polygon points="95.4,681.5 98.7,685.1 95.4,688.8 92.1,685.1" fill="#0c0c98"/>
<polygon points="139.2,652.3 142.5,655.9 139.2,659.5 135.9,655.9" fill="#0c0c98"/>
<text x="45.40" y="569.80" font-size="13.0" fill="#111" stroke="#111" stroke-width="0.25" font-weight="bold" textLength="89.20" lengthAdjust="spacingAndGlyphs">Freshly Isolated</text>
<text x="68.80" y="585.60" font-size="13.0" fill="#111" stroke="#111" stroke-width="0.25" font-weight="bold" textLength="45.80" lengthAdjust="spacingAndGlyphs">NK Cells</text>
<line x1="202.5" y1="600.2" x2="202.5" y2="695.3" stroke="#333" stroke-width="1"/>
<line x1="200.5" y1="695.30" x2="202.5" y2="695.30" stroke="#333" stroke-width="0.8"/>
<text x="197.80" y="697.55" font-size="6.3" fill="#3a3a3a" stroke="#3a3a3a" stroke-width="0.12" text-anchor="end" textLength="3.20" lengthAdjust="spacingAndGlyphs">0</text>
<line x1="200.5" y1="684.75" x2="202.5" y2="684.75" stroke="#333" stroke-width="0.8"/>
<text x="197.80" y="687.00" font-size="6.3" fill="#3a3a3a" stroke="#3a3a3a" stroke-width="0.12" text-anchor="end" textLength="6.20" lengthAdjust="spacingAndGlyphs">10</text>
<line x1="200.5" y1="674.20" x2="202.5" y2="674.20" stroke="#333" stroke-width="0.8"/>
<text x="197.80" y="676.45" font-size="6.3" fill="#3a3a3a" stroke="#3a3a3a" stroke-width="0.12" text-anchor="end" textLength="6.20" lengthAdjust="spacingAndGlyphs">20</text>
<line x1="200.5" y1="663.65" x2="202.5" y2="663.65" stroke="#333" stroke-width="0.8"/>
<text x="197.80" y="665.90" font-size="6.3" fill="#3a3a3a" stroke="#3a3a3a" stroke-width="0.12" text-anchor="end" textLength="6.20" lengthAdjust="spacingAndGlyphs">30</text>
<line x1="200.5" y1="653.10" x2="202.5" y2="653.10" stroke="#333" stroke-width="0.8"/>
<text x="197.80" y="655.35" font-size="6.3" fill="#3a3a3a" stroke="#3a3a3a" stroke-width="0.12" text-anchor="end" textLength="6.20" lengthAdjust="spacingAndGlyphs">40</text>
<line x1="200.5" y1="642.55" x2="202.5" y2="642.55" stroke="#333" stroke-width="0.8"/>
<text x="197.80" y="644.80" font-size="6.3" fill="#3a3a3a" stroke="#3a3a3a" stroke-width="0.12" text-anchor="end" textLength="6.20" lengthAdjust="spacingAndGlyphs">50</text>
<line x1="200.5" y1="632.00" x2="202.5" y2="632.00" stroke="#333" stroke-width="0.8"/>
<text x="197.80" y="634.25" font-size="6.3" fill="#3a3a3a" stroke="#3a3a3a" stroke-width="0.12" text-anchor="end" textLength="6.20" lengthAdjust="spacingAndGlyphs">60</text>
<line x1="200.5" y1="621.45" x2="202.5" y2="621.45" stroke="#333" stroke-width="0.8"/>
<text x="197.80" y="623.70" font-size="6.3" fill="#3a3a3a" stroke="#3a3a3a" stroke-width="0.12" text-anchor="end" textLength="6.20" lengthAdjust="spacingAndGlyphs">70</text>
<line x1="200.5" y1="610.90" x2="202.5" y2="610.90" stroke="#333" stroke-width="0.8"/>
<text x="197.80" y="613.15" font-size="6.3" fill="#3a3a3a" stroke="#3a3a3a" stroke-width="0.12" text-anchor="end" textLength="6.20" lengthAdjust="spacingAndGlyphs">80</text>
<line x1="200.5" y1="600.35" x2="202.5" y2="600.35" stroke="#333" stroke-width="0.8"/>
<text x="197.80" y="602.60" font-size="6.3" fill="#3a3a3a" stroke="#3a3a3a" stroke-width="0.12" text-anchor="end" textLength="6.20" lengthAdjust="spacingAndGlyphs">90</text>
<line x1="202.0" y1="695.3" x2="338.4" y2="695.3" stroke="#404040" stroke-width="1.6"/>
<line x1="248.20" y1="695.3" x2="248.20" y2="697.3" stroke="#333" stroke-width="0.8"/>
<line x1="293.20" y1="695.3" x2="293.20" y2="697.3" stroke="#333" stroke-width="0.8"/>
<line x1="338.00" y1="695.3" x2="338.00" y2="697.3" stroke="#333" stroke-width="0.8"/>
<text x="218.40" y="706.50" font-size="5.8" fill="#333" stroke="#333" stroke-width="0.1" textLength="12.50" lengthAdjust="spacingAndGlyphs">0.5:1</text>
<text x="267.00" y="706.50" font-size="5.8" fill="#333" stroke="#333" stroke-width="0.1" textLength="6.80" lengthAdjust="spacingAndGlyphs">1:1</text>
<text x="312.00" y="706.50" font-size="5.8" fill="#333" stroke="#333" stroke-width="0.1" textLength="7.30" lengthAdjust="spacingAndGlyphs">5:1</text>
<text x="258.00" y="718.90" font-size="6.6" fill="#222" stroke="#222" stroke-width="0.2" font-weight="bold" textLength="21.00" lengthAdjust="spacingAndGlyphs">E:T ratio</text>
<text x="183.00" y="650.50" font-size="11.2" fill="#111" stroke="#111" stroke-width="0.2" text-anchor="middle" textLength="72.70" lengthAdjust="spacingAndGlyphs" transform="rotate(-90 183.00 650.50)">% specific lysis</text>
<polyline points="225.7,693.2 270.7,690.0 315.5,685.3" fill="none" stroke="#c8704c" stroke-width="1.3"/>
<line x1="225.7" y1="685.8" x2="225.7" y2="695.3" stroke="#333" stroke-width="0.8"/>
<line x1="224.2" y1="685.8" x2="227.2" y2="685.8" stroke="#333" stroke-width="0.8"/>
<rect x="222.5" y="690.0" width="6.4" height="6.4" fill="#ff5a1e"/>
<rect x="267.5" y="686.8" width="6.4" height="6.4" fill="#ff5a1e"/>
<rect x="312.3" y="682.1" width="6.4" height="6.4" fill="#ff5a1e"/>
<polyline points="225.7,675.3 270.7,666.8 315.5,623.6" fill="none" stroke="#2a2a72" stroke-width="1.1"/>
<polygon points="225.7,671.7 229.0,675.3 225.7,678.9 222.4,675.3" fill="#0c0c98"/>
<polygon points="270.7,663.2 274.0,666.8 270.7,670.4 267.4,666.8" fill="#0c0c98"/>
<line x1="315.5" y1="619.3" x2="315.5" y2="627.8" stroke="#333" stroke-width="0.8"/>
<line x1="314.0" y1="619.3" x2="317.0" y2="619.3" stroke="#333" stroke-width="0.8"/>
<line x1="314.0" y1="627.8" x2="317.0" y2="627.8" stroke="#333" stroke-width="0.8"/>
<polygon points="315.5,620.0 318.8,623.6 315.5,627.2 312.2,623.6" fill="#0c0c98"/>
<text x="237.30" y="567.30" font-size="13.0" fill="#111" stroke="#111" stroke-width="0.25" font-weight="bold" textLength="80.80" lengthAdjust="spacingAndGlyphs">Overnight IL-2</text>
<text x="225.80" y="583.50" font-size="13.0" fill="#111" stroke="#111" stroke-width="0.25" font-weight="bold" textLength="102.70" lengthAdjust="spacingAndGlyphs">Activated NK Cells</text>
<line x1="383.2" y1="600.5" x2="383.2" y2="696.5" stroke="#333" stroke-width="1"/>
<line x1="381.2" y1="696.50" x2="383.2" y2="696.50" stroke="#333" stroke-width="0.8"/>
<text x="378.50" y="698.75" font-size="6.3" fill="#3a3a3a" stroke="#3a3a3a" stroke-width="0.12" text-anchor="end" textLength="3.20" lengthAdjust="spacingAndGlyphs">0</text>
<line x1="381.2" y1="685.83" x2="383.2" y2="685.83" stroke="#333" stroke-width="0.8"/>
<text x="378.50" y="688.08" font-size="6.3" fill="#3a3a3a" stroke="#3a3a3a" stroke-width="0.12" text-anchor="end" textLength="6.20" lengthAdjust="spacingAndGlyphs">10</text>
<line x1="381.2" y1="675.16" x2="383.2" y2="675.16" stroke="#333" stroke-width="0.8"/>
<text x="378.50" y="677.41" font-size="6.3" fill="#3a3a3a" stroke="#3a3a3a" stroke-width="0.12" text-anchor="end" textLength="6.20" lengthAdjust="spacingAndGlyphs">20</text>
<line x1="381.2" y1="664.49" x2="383.2" y2="664.49" stroke="#333" stroke-width="0.8"/>
<text x="378.50" y="666.74" font-size="6.3" fill="#3a3a3a" stroke="#3a3a3a" stroke-width="0.12" text-anchor="end" textLength="6.20" lengthAdjust="spacingAndGlyphs">30</text>
<line x1="381.2" y1="653.82" x2="383.2" y2="653.82" stroke="#333" stroke-width="0.8"/>
<text x="378.50" y="656.07" font-size="6.3" fill="#3a3a3a" stroke="#3a3a3a" stroke-width="0.12" text-anchor="end" textLength="6.20" lengthAdjust="spacingAndGlyphs">40</text>
<line x1="381.2" y1="643.15" x2="383.2" y2="643.15" stroke="#333" stroke-width="0.8"/>
<text x="378.50" y="645.40" font-size="6.3" fill="#3a3a3a" stroke="#3a3a3a" stroke-width="0.12" text-anchor="end" textLength="6.20" lengthAdjust="spacingAndGlyphs">50</text>
<line x1="381.2" y1="632.48" x2="383.2" y2="632.48" stroke="#333" stroke-width="0.8"/>
<text x="378.50" y="634.73" font-size="6.3" fill="#3a3a3a" stroke="#3a3a3a" stroke-width="0.12" text-anchor="end" textLength="6.20" lengthAdjust="spacingAndGlyphs">60</text>
<line x1="381.2" y1="621.81" x2="383.2" y2="621.81" stroke="#333" stroke-width="0.8"/>
<text x="378.50" y="624.06" font-size="6.3" fill="#3a3a3a" stroke="#3a3a3a" stroke-width="0.12" text-anchor="end" textLength="6.20" lengthAdjust="spacingAndGlyphs">70</text>
<line x1="381.2" y1="611.14" x2="383.2" y2="611.14" stroke="#333" stroke-width="0.8"/>
<text x="378.50" y="613.39" font-size="6.3" fill="#3a3a3a" stroke="#3a3a3a" stroke-width="0.12" text-anchor="end" textLength="6.20" lengthAdjust="spacingAndGlyphs">80</text>
<line x1="381.2" y1="600.47" x2="383.2" y2="600.47" stroke="#333" stroke-width="0.8"/>
<text x="378.50" y="602.72" font-size="6.3" fill="#3a3a3a" stroke="#3a3a3a" stroke-width="0.12" text-anchor="end" textLength="6.20" lengthAdjust="spacingAndGlyphs">90</text>
<line x1="382.7" y1="696.5" x2="519.5" y2="696.5" stroke="#404040" stroke-width="1.6"/>
<line x1="429.05" y1="696.5" x2="429.05" y2="698.5" stroke="#333" stroke-width="0.8"/>
<line x1="474.75" y1="696.5" x2="474.75" y2="698.5" stroke="#333" stroke-width="0.8"/>
<line x1="519.15" y1="696.5" x2="519.15" y2="698.5" stroke="#333" stroke-width="0.8"/>
<text x="399.30" y="707.70" font-size="5.8" fill="#333" stroke="#333" stroke-width="0.1" textLength="12.10" lengthAdjust="spacingAndGlyphs">0.5:1</text>
<text x="448.00" y="707.70" font-size="5.8" fill="#333" stroke="#333" stroke-width="0.1" textLength="7.50" lengthAdjust="spacingAndGlyphs">1:1</text>
<text x="493.00" y="707.70" font-size="5.8" fill="#333" stroke="#333" stroke-width="0.1" textLength="7.50" lengthAdjust="spacingAndGlyphs">5:1</text>
<text x="438.60" y="719.60" font-size="6.6" fill="#222" stroke="#222" stroke-width="0.2" font-weight="bold" textLength="21.10" lengthAdjust="spacingAndGlyphs">E:T ratio</text>
<text x="364.00" y="650.50" font-size="11.2" fill="#111" stroke="#111" stroke-width="0.2" text-anchor="middle" textLength="71.80" lengthAdjust="spacingAndGlyphs" transform="rotate(-90 364.00 650.50)">% specific lysis</text>
<polyline points="406.2,681.6 451.9,669.8 496.3,626.1" fill="none" stroke="#c8704c" stroke-width="1.3"/>
<rect x="403.0" y="678.4" width="6.4" height="6.4" fill="#ff5a1e"/>
<rect x="448.7" y="666.6" width="6.4" height="6.4" fill="#ff5a1e"/>
<rect x="493.1" y="622.9" width="6.4" height="6.4" fill="#ff5a1e"/>
<polyline points="406.2,648.5 451.9,625.0 496.3,610.1" fill="none" stroke="#2a2a72" stroke-width="1.1"/>
<line x1="406.2" y1="644.8" x2="406.2" y2="652.2" stroke="#333" stroke-width="0.8"/>
<line x1="404.7" y1="644.8" x2="407.7" y2="644.8" stroke="#333" stroke-width="0.8"/>
<line x1="404.7" y1="652.2" x2="407.7" y2="652.2" stroke="#333" stroke-width="0.8"/>
<polygon points="406.2,644.9 409.5,648.5 406.2,652.1 402.9,648.5" fill="#0c0c98"/>
<line x1="451.9" y1="618.6" x2="451.9" y2="631.4" stroke="#333" stroke-width="0.8"/>
<line x1="450.4" y1="618.6" x2="453.4" y2="618.6" stroke="#333" stroke-width="0.8"/>
<line x1="450.4" y1="631.4" x2="453.4" y2="631.4" stroke="#333" stroke-width="0.8"/>
<polygon points="451.9,621.4 455.2,625.0 451.9,628.6 448.6,625.0" fill="#0c0c98"/>
<line x1="496.3" y1="607.4" x2="496.3" y2="612.7" stroke="#333" stroke-width="0.8"/>
<line x1="494.8" y1="607.4" x2="497.8" y2="607.4" stroke="#333" stroke-width="0.8"/>
<line x1="494.8" y1="612.7" x2="497.8" y2="612.7" stroke="#333" stroke-width="0.8"/>
<polygon points="496.3,606.5 499.6,610.1 496.3,613.7 493.0,610.1" fill="#0c0c98"/>
<text x="402.50" y="576.25" font-size="13.0" fill="#111" stroke="#111" stroke-width="0.25" font-weight="bold" textLength="107.00" lengthAdjust="spacingAndGlyphs">Expanded NK Cells</text>
<polygon points="135,739.3 141.6,747 135,754.7 128.4,747" fill="#0e0e9c"/>
<text x="149.90" y="750.00" font-size="13.4" fill="#2a30bc" font-weight="bold" textLength="69.20" lengthAdjust="spacingAndGlyphs">K562 Cells</text>
<rect x="128.7" y="769.6" width="10.5" height="11.6" fill="#ff5512"/>
<text x="150.20" y="783.80" font-size="13.6" fill="#e8762a" font-weight="bold" textLength="215.80" lengthAdjust="spacingAndGlyphs">Renal cell carcinoma tumor cells</text>
</g>
</svg></body></html>
